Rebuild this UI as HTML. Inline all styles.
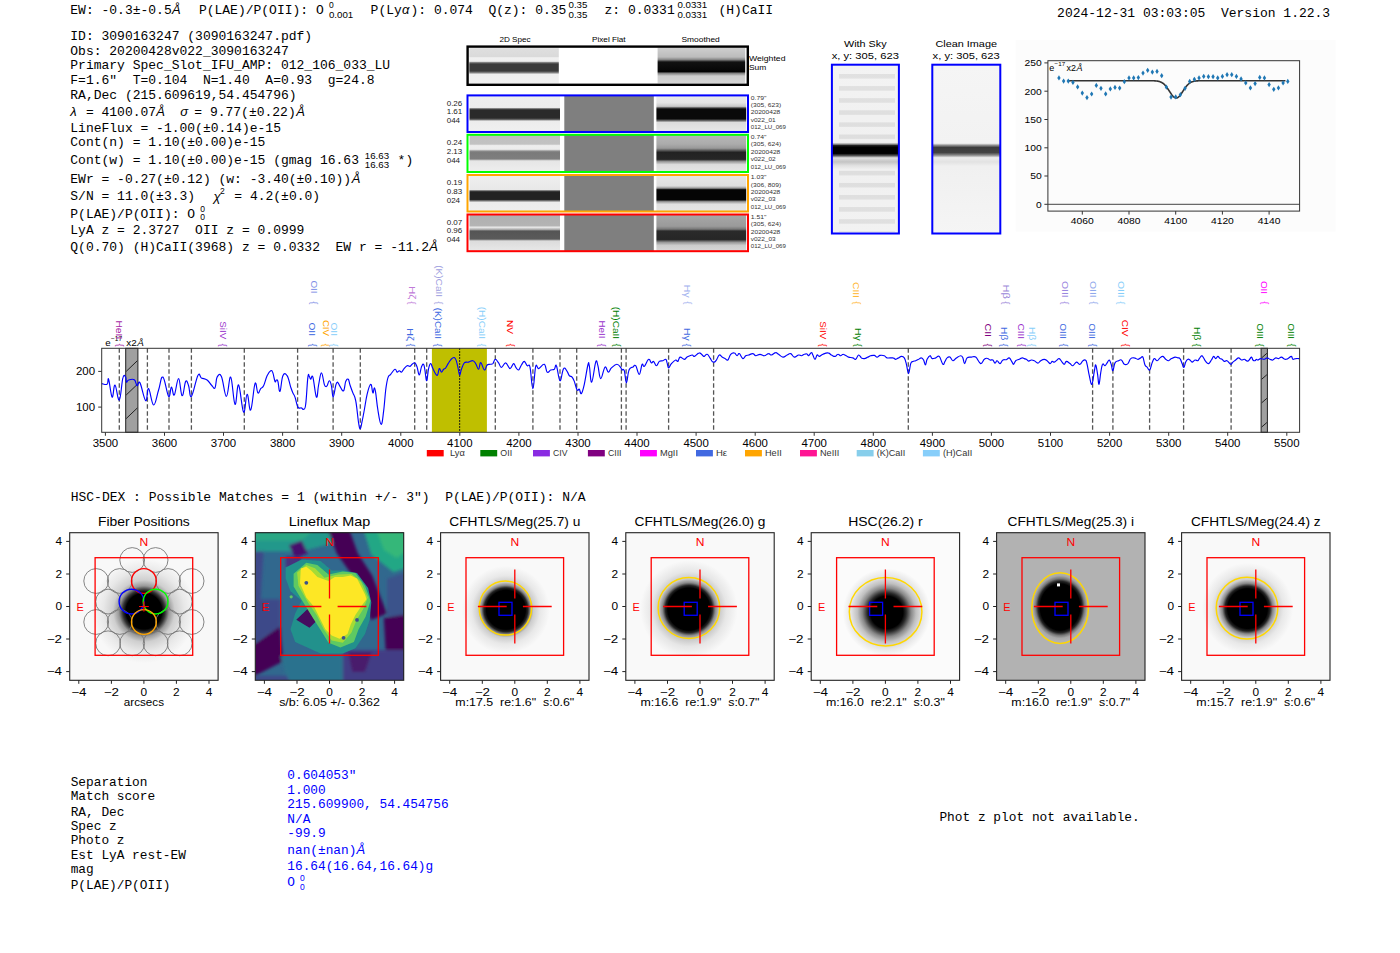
<!DOCTYPE html>
<html><head><meta charset="utf-8"><style>
html,body{margin:0;padding:0;background:#fff;width:1400px;height:953px;overflow:hidden}
svg{display:block} text{white-space:pre}
</style></head><body>
<svg width="1400" height="953" viewBox="0 0 1400 953">
<defs>
<linearGradient id="ws2d" x1="0" y1="0" x2="0" y2="1"><stop offset="0.000" stop-color="#eeeeee"/><stop offset="0.034" stop-color="#dedede"/><stop offset="0.249" stop-color="#dadada"/><stop offset="0.285" stop-color="#f0f0f0"/><stop offset="0.383" stop-color="#eeeeee"/><stop offset="0.419" stop-color="#777"/><stop offset="0.458" stop-color="#3a3a3a"/><stop offset="0.654" stop-color="#3a3a3a"/><stop offset="0.704" stop-color="#888"/><stop offset="0.743" stop-color="#eeeeee"/><stop offset="1.000" stop-color="#f0f0f0"/></linearGradient>
<linearGradient id="wssm" x1="0" y1="0" x2="0" y2="1"><stop offset="0.000" stop-color="#cfcfcf"/><stop offset="0.123" stop-color="#c6c6c6"/><stop offset="0.263" stop-color="#bcbcbc"/><stop offset="0.332" stop-color="#8a8a8a"/><stop offset="0.402" stop-color="#111"/><stop offset="0.668" stop-color="#050505"/><stop offset="0.723" stop-color="#888"/><stop offset="0.793" stop-color="#cfcfcf"/><stop offset="1.000" stop-color="#d5d5d5"/></linearGradient>
<linearGradient id="r2d0" x1="0" y1="0" x2="0" y2="1"><stop offset="0" stop-color="#eeeeee"/><stop offset="0.33" stop-color="#ececec"/><stop offset="0.37" stop-color="#555"/><stop offset="0.4" stop-color="#2a2a2a"/><stop offset="0.62" stop-color="#2a2a2a"/><stop offset="0.66" stop-color="#666"/><stop offset="0.7" stop-color="#ececec"/><stop offset="1" stop-color="#f0f0f0"/></linearGradient>
<linearGradient id="rsm0" x1="0" y1="0" x2="0" y2="1"><stop offset="0" stop-color="#ececec"/><stop offset="0.2" stop-color="#e4e4e4"/><stop offset="0.3" stop-color="#c8c8c8"/><stop offset="0.35" stop-color="#333"/><stop offset="0.38" stop-color="#0a0a0a"/><stop offset="0.64" stop-color="#0a0a0a"/><stop offset="0.68" stop-color="#555"/><stop offset="0.74" stop-color="#dcdcdc"/><stop offset="1" stop-color="#e8e8e8"/></linearGradient>
<linearGradient id="r2d1" x1="0" y1="0" x2="0" y2="1"><stop offset="0" stop-color="#d8d8d8"/><stop offset="0.04" stop-color="#c0c0c0"/><stop offset="0.25" stop-color="#c2c2c2"/><stop offset="0.29" stop-color="#eeeeee"/><stop offset="0.39" stop-color="#ececec"/><stop offset="0.44" stop-color="#8a8a8a"/><stop offset="0.48" stop-color="#7a7a7a"/><stop offset="0.65" stop-color="#7e7e7e"/><stop offset="0.7" stop-color="#e6e6e6"/><stop offset="1" stop-color="#eeeeee"/></linearGradient>
<linearGradient id="rsm1" x1="0" y1="0" x2="0" y2="1"><stop offset="0" stop-color="#b8b8b8"/><stop offset="0.25" stop-color="#ababab"/><stop offset="0.36" stop-color="#999"/><stop offset="0.44" stop-color="#444"/><stop offset="0.47" stop-color="#222"/><stop offset="0.66" stop-color="#262626"/><stop offset="0.72" stop-color="#999"/><stop offset="0.8" stop-color="#dcdcdc"/><stop offset="1" stop-color="#e4e4e4"/></linearGradient>
<linearGradient id="r2d2" x1="0" y1="0" x2="0" y2="1"><stop offset="0" stop-color="#efefef"/><stop offset="0.4" stop-color="#e8e8e8"/><stop offset="0.44" stop-color="#444"/><stop offset="0.47" stop-color="#222"/><stop offset="0.67" stop-color="#222"/><stop offset="0.71" stop-color="#888"/><stop offset="0.75" stop-color="#ececec"/><stop offset="1" stop-color="#eeeeee"/></linearGradient>
<linearGradient id="rsm2" x1="0" y1="0" x2="0" y2="1"><stop offset="0" stop-color="#e8e8e8"/><stop offset="0.3" stop-color="#dedede"/><stop offset="0.36" stop-color="#999"/><stop offset="0.4" stop-color="#111"/><stop offset="0.42" stop-color="#050505"/><stop offset="0.68" stop-color="#050505"/><stop offset="0.73" stop-color="#999"/><stop offset="0.8" stop-color="#e0e0e0"/><stop offset="1" stop-color="#e4e4e4"/></linearGradient>
<linearGradient id="r2d3" x1="0" y1="0" x2="0" y2="1"><stop offset="0" stop-color="#cfcfcf"/><stop offset="0.03" stop-color="#b0b0b0"/><stop offset="0.3" stop-color="#b4b4b4"/><stop offset="0.35" stop-color="#e8e8e8"/><stop offset="0.41" stop-color="#aaa"/><stop offset="0.45" stop-color="#555"/><stop offset="0.67" stop-color="#5a5a5a"/><stop offset="0.72" stop-color="#dcdcdc"/><stop offset="1" stop-color="#e8e8e8"/></linearGradient>
<linearGradient id="rsm3" x1="0" y1="0" x2="0" y2="1"><stop offset="0" stop-color="#a8a8a8"/><stop offset="0.32" stop-color="#9a9a9a"/><stop offset="0.4" stop-color="#777"/><stop offset="0.45" stop-color="#2a2a2a"/><stop offset="0.68" stop-color="#262626"/><stop offset="0.76" stop-color="#999"/><stop offset="0.84" stop-color="#cccccc"/><stop offset="1" stop-color="#d8d8d8"/></linearGradient>
<linearGradient id="skyA" x1="0" y1="0" x2="0" y2="1"><stop offset="0" stop-color="#f3f3f3"/><stop offset="0.46" stop-color="#f0f0f0"/><stop offset="0.47" stop-color="#999"/><stop offset="0.478" stop-color="#222"/><stop offset="0.488" stop-color="#000"/><stop offset="0.525" stop-color="#000"/><stop offset="0.538" stop-color="#555"/><stop offset="0.552" stop-color="#e8e8e8"/><stop offset="0.556" stop-color="#d8d8d8"/><stop offset="0.575" stop-color="#c4c4c4"/><stop offset="0.598" stop-color="#e2e2e2"/><stop offset="0.62" stop-color="#f0f0f0"/><stop offset="1" stop-color="#f2f2f2"/></linearGradient>
<linearGradient id="skyB" x1="0" y1="0" x2="0" y2="1"><stop offset="0" stop-color="#f5f5f5"/><stop offset="0.465" stop-color="#f2f2f2"/><stop offset="0.478" stop-color="#888"/><stop offset="0.49" stop-color="#3c3c3c"/><stop offset="0.52" stop-color="#444"/><stop offset="0.535" stop-color="#888"/><stop offset="0.55" stop-color="#eeeeee"/><stop offset="0.575" stop-color="#e2e2e2"/><stop offset="0.6" stop-color="#f0f0f0"/><stop offset="1" stop-color="#f5f5f5"/></linearGradient>
<pattern id="stripes" x="0" y="74" width="10" height="12.1" patternUnits="userSpaceOnUse"><rect x="0" y="-0.5" width="10" height="5" fill="#000" fill-opacity="0.075"/></pattern>

<radialGradient id="b0" gradientUnits="userSpaceOnUse" cx="143.9" cy="611.1" r="52.1" gradientTransform="translate(143.9,611.1) scale(1.0,1) translate(-143.9,-611.1)"><stop offset="0" stop-color="#000"/><stop offset="0.344" stop-color="#000"/><stop offset="0.406" stop-color="#333"/><stop offset="0.484" stop-color="#999"/><stop offset="0.594" stop-color="#cfcfcf"/><stop offset="0.781" stop-color="#e8e8e8"/><stop offset="1.000" stop-color="#f8f8f8"/></radialGradient>
<clipPath id="lfclip"><rect x="255.6" y="532.6" width="148.2" height="147.4"/></clipPath>
<filter id="lfblur" x="-10%" y="-10%" width="120%" height="120%"><feGaussianBlur stdDeviation="1.6"/></filter>
<filter id="lfblur2" x="-10%" y="-10%" width="120%" height="120%"><feGaussianBlur stdDeviation="0.7"/></filter>
<radialGradient id="b2" gradientUnits="userSpaceOnUse" cx="505.9" cy="609.8" r="43.9" gradientTransform="translate(505.9,609.8) scale(1.0,1) translate(-505.9,-609.8)"><stop offset="0" stop-color="#000"/><stop offset="0.444" stop-color="#000"/><stop offset="0.500" stop-color="#222"/><stop offset="0.556" stop-color="#888"/><stop offset="0.630" stop-color="#ccc"/><stop offset="0.778" stop-color="#e8e8e8"/><stop offset="1.000" stop-color="#f9f9f9"/></radialGradient>
<radialGradient id="b3" gradientUnits="userSpaceOnUse" cx="688.9" cy="609.1" r="48.8" gradientTransform="translate(688.9,609.1) scale(1.0,1) translate(-688.9,-609.1)"><stop offset="0" stop-color="#000"/><stop offset="0.433" stop-color="#000"/><stop offset="0.483" stop-color="#222"/><stop offset="0.540" stop-color="#888"/><stop offset="0.617" stop-color="#c8c8c8"/><stop offset="0.767" stop-color="#e6e6e6"/><stop offset="1.000" stop-color="#f9f9f9"/></radialGradient>
<radialGradient id="b4" gradientUnits="userSpaceOnUse" cx="886.7" cy="612.4" r="43.9" gradientTransform="translate(886.7,612.4) scale(1.0,1) translate(-886.7,-612.4)"><stop offset="0" stop-color="#000"/><stop offset="0.370" stop-color="#000"/><stop offset="0.444" stop-color="#2a2a2a"/><stop offset="0.556" stop-color="#888"/><stop offset="0.667" stop-color="#c0c0c0"/><stop offset="0.815" stop-color="#e5e5e5"/><stop offset="1.000" stop-color="#fbfbfb"/></radialGradient>
<radialGradient id="b5" gradientUnits="userSpaceOnUse" cx="1060.1" cy="607.0" r="34.2" gradientTransform="translate(1060.1,607.0) scale(0.86,1) translate(-1060.1,-607.0)"><stop offset="0" stop-color="#000"/><stop offset="0.676" stop-color="#000"/><stop offset="0.752" stop-color="#222"/><stop offset="0.829" stop-color="#777"/><stop offset="0.914" stop-color="#a8a8a8"/><stop offset="1.000" stop-color="#b2b2b2"/></radialGradient>
<radialGradient id="b6" gradientUnits="userSpaceOnUse" cx="1247.5" cy="608.6" r="45.6" gradientTransform="translate(1247.5,608.6) scale(1.0,1) translate(-1247.5,-608.6)"><stop offset="0" stop-color="#000"/><stop offset="0.436" stop-color="#000"/><stop offset="0.493" stop-color="#222"/><stop offset="0.554" stop-color="#888"/><stop offset="0.636" stop-color="#ccc"/><stop offset="0.786" stop-color="#e8e8e8"/><stop offset="1.000" stop-color="#f9f9f9"/></radialGradient>
</defs>
<rect width="1400" height="953" fill="#fff"/>
<text x="70.3" y="14.0" font-family="Liberation Mono" font-size="13" fill="#000" >EW: -0.3±-0.5</text>
<text x="172" y="14.0" font-family="Liberation Sans" font-style="italic" font-size="13">Å</text>
<text x="198.9" y="14.0" font-family="Liberation Mono" font-size="13" fill="#000" >P(LAE)/P(OII): O</text>
<text x="328.9" y="8.4" font-family="Liberation Sans" font-size="8.5" fill="#000" text-anchor="start"  >0</text>
<text x="328.9" y="17.5" font-family="Liberation Sans" font-size="8.5" fill="#000" text-anchor="start" textLength="24.3" lengthAdjust="spacingAndGlyphs" >0.001</text>
<text x="370.6" y="14.0" font-family="Liberation Mono" font-size="13" fill="#000" >P(Ly</text>
<text x="402" y="14.0" font-family="Liberation Sans" font-style="italic" font-size="13">α</text>
<text x="410.5" y="14.0" font-family="Liberation Mono" font-size="13" fill="#000" >): 0.074</text>
<text x="488.4" y="14.0" font-family="Liberation Mono" font-size="13" fill="#000" >Q(z): 0.35</text>
<text x="568.5" y="8.4" font-family="Liberation Sans" font-size="8.5" fill="#000" text-anchor="start" textLength="18.9" lengthAdjust="spacingAndGlyphs" >0.35</text>
<text x="568.5" y="17.5" font-family="Liberation Sans" font-size="8.5" fill="#000" text-anchor="start" textLength="18.9" lengthAdjust="spacingAndGlyphs" >0.35</text>
<text x="604.5" y="14.0" font-family="Liberation Mono" font-size="13" fill="#000" >z: 0.0331</text>
<text x="677.4" y="8.4" font-family="Liberation Sans" font-size="8.5" fill="#000" text-anchor="start" textLength="29.7" lengthAdjust="spacingAndGlyphs" >0.0331</text>
<text x="677.4" y="17.5" font-family="Liberation Sans" font-size="8.5" fill="#000" text-anchor="start" textLength="29.7" lengthAdjust="spacingAndGlyphs" >0.0331</text>
<text x="718.5" y="14.0" font-family="Liberation Mono" font-size="13" fill="#000" >(H)CaII</text>
<text x="1057.1" y="16.7" font-family="Liberation Mono" font-size="13" fill="#000" >2024-12-31 03:03:05  Version 1.22.3</text>
<text x="70.3" y="40.4" font-family="Liberation Mono" font-size="13" fill="#000" >ID: 3090163247 (3090163247.pdf)</text>
<text x="70.3" y="55.0" font-family="Liberation Mono" font-size="13" fill="#000" >Obs: 20200428v022_3090163247</text>
<text x="70.3" y="69.3" font-family="Liberation Mono" font-size="13" fill="#000" >Primary Spec_Slot_IFU_AMP: 012_106_033_LU</text>
<text x="70.3" y="84.3" font-family="Liberation Mono" font-size="13" fill="#000" >F=1.6"  T=0.104  N=1.40  A=0.93  g=24.8</text>
<text x="70.3" y="99.3" font-family="Liberation Mono" font-size="13" fill="#000" >RA,Dec (215.609619,54.454796)</text>
<text x="70.3" y="131.5" font-family="Liberation Mono" font-size="13" fill="#000" >LineFlux = -1.00(±0.14)e-15</text>
<text x="70.3" y="146.2" font-family="Liberation Mono" font-size="13" fill="#000" >Cont(n) = 1.10(±0.00)e-15</text>
<text x="70.3" y="182.5" font-family="Liberation Mono" font-size="13" fill="#000" >EWr = -0.27(±0.12) (w: -3.40(±0.10))</text>
<text x="70.3" y="234.3" font-family="Liberation Mono" font-size="13" fill="#000" >LyA z = 2.3727  OII z = 0.0999</text>
<text x="70.3" y="251.2" font-family="Liberation Mono" font-size="13" fill="#000" >Q(0.70) (H)CaII(3968) z = 0.0332  EW r = -11.2</text>
<text x="70.3" y="116.0" font-family="Liberation Sans" font-style="italic" font-size="13">λ</text>
<text x="85.9" y="116.0" font-family="Liberation Mono" font-size="13" fill="#000" >= 4100.07</text>
<text x="156.3" y="116.0" font-family="Liberation Sans" font-style="italic" font-size="13">Å</text>
<text x="180.3" y="116.0" font-family="Liberation Sans" font-style="italic" font-size="13">σ</text>
<text x="194.3" y="116.0" font-family="Liberation Mono" font-size="13" fill="#000" >= 9.77(±0.22)</text>
<text x="296.3" y="116.0" font-family="Liberation Sans" font-style="italic" font-size="13">Å</text>
<text x="70.3" y="164.1" font-family="Liberation Mono" font-size="13" fill="#000" >Cont(w) = 1.10(±0.00)e-15 (gmag 16.63</text>
<text x="364.8" y="158.5" font-family="Liberation Sans" font-size="8.5" fill="#000" text-anchor="start" textLength="24.3" lengthAdjust="spacingAndGlyphs" >16.63</text>
<text x="364.8" y="167.5" font-family="Liberation Sans" font-size="8.5" fill="#000" text-anchor="start" textLength="24.3" lengthAdjust="spacingAndGlyphs" >16.63</text>
<text x="397.6" y="164.1" font-family="Liberation Mono" font-size="13" fill="#000" >*)</text>
<text x="351.8" y="182.5" font-family="Liberation Sans" font-style="italic" font-size="13">Å</text>
<text x="70.3" y="200.1" font-family="Liberation Mono" font-size="13" fill="#000" >S/N = 11.0(±3.3)</text>
<text x="213.60000000000002" y="201.1" font-family="Liberation Sans" font-style="italic" font-size="13">χ</text>
<text x="219.9" y="193.6" font-family="Liberation Sans" font-size="8.5" fill="#000" text-anchor="start"  >2</text>
<text x="234.3" y="200.1" font-family="Liberation Mono" font-size="13" fill="#000" >= 4.2(±0.0)</text>
<text x="70.3" y="217.7" font-family="Liberation Mono" font-size="13" fill="#000" >P(LAE)/P(OII): O</text>
<text x="200.3" y="212.2" font-family="Liberation Sans" font-size="8.5" fill="#000" text-anchor="start"  >0</text>
<text x="200.3" y="220.2" font-family="Liberation Sans" font-size="8.5" fill="#000" text-anchor="start"  >0</text>
<text x="429.3" y="251.2" font-family="Liberation Sans" font-style="italic" font-size="13">Å</text>
<text x="515.0" y="41.5" font-family="Liberation Sans" font-size="7.5" fill="#000" text-anchor="middle" textLength="31.2" lengthAdjust="spacingAndGlyphs" >2D Spec</text>
<text x="608.8" y="41.5" font-family="Liberation Sans" font-size="7.5" fill="#000" text-anchor="middle" textLength="33.7" lengthAdjust="spacingAndGlyphs" >Pixel Flat</text>
<text x="700.6" y="41.5" font-family="Liberation Sans" font-size="7.5" fill="#000" text-anchor="middle" textLength="38.3" lengthAdjust="spacingAndGlyphs" >Smoothed</text>
<rect x="469.3" y="47.6" width="89.5" height="35.8" fill="url(#ws2d)"/>
<rect x="657.6" y="47.6" width="87.6" height="35.8" fill="url(#wssm)"/>
<rect x="467.6" y="46.6" width="280.2" height="38.2" fill="none" stroke="#000" stroke-width="2.4"/>
<text x="749.0" y="60.5" font-family="Liberation Sans" font-size="7.7" fill="#000" text-anchor="start" textLength="36.5" lengthAdjust="spacingAndGlyphs" >Weighted</text>
<text x="749.0" y="69.5" font-family="Liberation Sans" font-size="7.7" fill="#000" text-anchor="start" textLength="17.3" lengthAdjust="spacingAndGlyphs" >Sum</text>
<rect x="469.5" y="95.4" width="90.5" height="36.599999999999994" fill="url(#r2d0)"/>
<rect x="564.3" y="95.4" width="89.5" height="36.599999999999994" fill="#7f7f7f"/>
<rect x="656.4" y="95.4" width="89.8" height="36.599999999999994" fill="url(#rsm0)"/>
<rect x="467.5" y="95.4" width="280.5" height="36.599999999999994" fill="none" stroke="#0000ff" stroke-width="2"/>
<text x="446.7" y="105.6" font-family="Liberation Sans" font-size="8" fill="#222" text-anchor="start"  >0.26</text>
<text x="446.7" y="114.3" font-family="Liberation Sans" font-size="8" fill="#222" text-anchor="start"  >1.61</text>
<text x="446.7" y="123.0" font-family="Liberation Sans" font-size="8" fill="#222" text-anchor="start"  >044</text>
<text x="750.8" y="99.6" font-family="Liberation Sans" font-size="5.8" fill="#333" text-anchor="start" textLength="15.6" lengthAdjust="spacingAndGlyphs" >0.79"</text>
<text x="750.8" y="107.0" font-family="Liberation Sans" font-size="5.8" fill="#333" text-anchor="start" textLength="30.4" lengthAdjust="spacingAndGlyphs" >(305, 623)</text>
<text x="750.8" y="114.4" font-family="Liberation Sans" font-size="5.8" fill="#333" text-anchor="start" textLength="29.5" lengthAdjust="spacingAndGlyphs" >20200428</text>
<text x="750.8" y="121.8" font-family="Liberation Sans" font-size="5.8" fill="#333" text-anchor="start" textLength="24.8" lengthAdjust="spacingAndGlyphs" >v022_01</text>
<text x="750.8" y="129.2" font-family="Liberation Sans" font-size="5.8" fill="#333" text-anchor="start" textLength="35.1" lengthAdjust="spacingAndGlyphs" >012_LU_069</text>
<rect x="469.5" y="134.8" width="90.5" height="37.19999999999999" fill="url(#r2d1)"/>
<rect x="564.3" y="134.8" width="89.5" height="37.19999999999999" fill="#7f7f7f"/>
<rect x="656.4" y="134.8" width="89.8" height="37.19999999999999" fill="url(#rsm1)"/>
<rect x="467.5" y="134.8" width="280.5" height="37.19999999999999" fill="none" stroke="#00ff00" stroke-width="2"/>
<text x="446.7" y="145.3" font-family="Liberation Sans" font-size="8" fill="#222" text-anchor="start"  >0.24</text>
<text x="446.7" y="154.0" font-family="Liberation Sans" font-size="8" fill="#222" text-anchor="start"  >2.13</text>
<text x="446.7" y="162.7" font-family="Liberation Sans" font-size="8" fill="#222" text-anchor="start"  >044</text>
<text x="750.8" y="139.0" font-family="Liberation Sans" font-size="5.8" fill="#333" text-anchor="start" textLength="15.6" lengthAdjust="spacingAndGlyphs" >0.74"</text>
<text x="750.8" y="146.4" font-family="Liberation Sans" font-size="5.8" fill="#333" text-anchor="start" textLength="30.4" lengthAdjust="spacingAndGlyphs" >(305, 624)</text>
<text x="750.8" y="153.8" font-family="Liberation Sans" font-size="5.8" fill="#333" text-anchor="start" textLength="29.5" lengthAdjust="spacingAndGlyphs" >20200428</text>
<text x="750.8" y="161.2" font-family="Liberation Sans" font-size="5.8" fill="#333" text-anchor="start" textLength="24.8" lengthAdjust="spacingAndGlyphs" >v022_02</text>
<text x="750.8" y="168.6" font-family="Liberation Sans" font-size="5.8" fill="#333" text-anchor="start" textLength="35.1" lengthAdjust="spacingAndGlyphs" >012_LU_069</text>
<rect x="469.5" y="175.0" width="90.5" height="36.5" fill="url(#r2d2)"/>
<rect x="564.3" y="175.0" width="89.5" height="36.5" fill="#7f7f7f"/>
<rect x="656.4" y="175.0" width="89.8" height="36.5" fill="url(#rsm2)"/>
<rect x="467.5" y="175.0" width="280.5" height="36.5" fill="none" stroke="#ffa500" stroke-width="2"/>
<text x="446.7" y="185.2" font-family="Liberation Sans" font-size="8" fill="#222" text-anchor="start"  >0.19</text>
<text x="446.7" y="193.8" font-family="Liberation Sans" font-size="8" fill="#222" text-anchor="start"  >0.83</text>
<text x="446.7" y="202.6" font-family="Liberation Sans" font-size="8" fill="#222" text-anchor="start"  >024</text>
<text x="750.8" y="179.2" font-family="Liberation Sans" font-size="5.8" fill="#333" text-anchor="start" textLength="15.6" lengthAdjust="spacingAndGlyphs" >1.03"</text>
<text x="750.8" y="186.6" font-family="Liberation Sans" font-size="5.8" fill="#333" text-anchor="start" textLength="30.4" lengthAdjust="spacingAndGlyphs" >(306, 809)</text>
<text x="750.8" y="194.0" font-family="Liberation Sans" font-size="5.8" fill="#333" text-anchor="start" textLength="29.5" lengthAdjust="spacingAndGlyphs" >20200428</text>
<text x="750.8" y="201.4" font-family="Liberation Sans" font-size="5.8" fill="#333" text-anchor="start" textLength="24.8" lengthAdjust="spacingAndGlyphs" >v022_03</text>
<text x="750.8" y="208.8" font-family="Liberation Sans" font-size="5.8" fill="#333" text-anchor="start" textLength="35.1" lengthAdjust="spacingAndGlyphs" >012_LU_069</text>
<rect x="469.5" y="214.5" width="90.5" height="36.69999999999999" fill="url(#r2d3)"/>
<rect x="564.3" y="214.5" width="89.5" height="36.69999999999999" fill="#7f7f7f"/>
<rect x="656.4" y="214.5" width="89.8" height="36.69999999999999" fill="url(#rsm3)"/>
<rect x="467.5" y="214.5" width="280.5" height="36.69999999999999" fill="none" stroke="#ff0000" stroke-width="2"/>
<text x="446.7" y="224.8" font-family="Liberation Sans" font-size="8" fill="#222" text-anchor="start"  >0.07</text>
<text x="446.7" y="233.4" font-family="Liberation Sans" font-size="8" fill="#222" text-anchor="start"  >0.96</text>
<text x="446.7" y="242.2" font-family="Liberation Sans" font-size="8" fill="#222" text-anchor="start"  >044</text>
<text x="750.8" y="218.7" font-family="Liberation Sans" font-size="5.8" fill="#333" text-anchor="start" textLength="15.6" lengthAdjust="spacingAndGlyphs" >1.51"</text>
<text x="750.8" y="226.1" font-family="Liberation Sans" font-size="5.8" fill="#333" text-anchor="start" textLength="30.4" lengthAdjust="spacingAndGlyphs" >(305, 624)</text>
<text x="750.8" y="233.5" font-family="Liberation Sans" font-size="5.8" fill="#333" text-anchor="start" textLength="29.5" lengthAdjust="spacingAndGlyphs" >20200428</text>
<text x="750.8" y="240.9" font-family="Liberation Sans" font-size="5.8" fill="#333" text-anchor="start" textLength="24.8" lengthAdjust="spacingAndGlyphs" >v022_03</text>
<text x="750.8" y="248.3" font-family="Liberation Sans" font-size="5.8" fill="#333" text-anchor="start" textLength="35.1" lengthAdjust="spacingAndGlyphs" >012_LU_069</text>
<text x="865.3" y="47.4" font-family="Liberation Sans" font-size="9.8" fill="#000" text-anchor="middle" textLength="42.7" lengthAdjust="spacingAndGlyphs" >With Sky</text>
<text x="865.3" y="58.5" font-family="Liberation Sans" font-size="9.8" fill="#000" text-anchor="middle" textLength="67.2" lengthAdjust="spacingAndGlyphs" >x, y: 305, 623</text>
<text x="966.2" y="47.4" font-family="Liberation Sans" font-size="9.8" fill="#000" text-anchor="middle" textLength="61.6" lengthAdjust="spacingAndGlyphs" >Clean Image</text>
<text x="966.2" y="58.5" font-family="Liberation Sans" font-size="9.8" fill="#000" text-anchor="middle" textLength="67.2" lengthAdjust="spacingAndGlyphs" >x, y: 305, 623</text>
<rect x="832" y="64.7" width="67" height="169" fill="url(#skyA)"/>
<rect x="839" y="73" width="56" height="68" fill="url(#stripes)"/>
<rect x="839" y="169" width="56" height="63" fill="url(#stripes)"/>
<rect x="932.3" y="64.7" width="68" height="169" fill="url(#skyB)"/>
<rect x="831.9" y="64.7" width="67" height="168.8" fill="none" stroke="#0000ff" stroke-width="2"/>
<rect x="932.3" y="64.7" width="68" height="168.8" fill="none" stroke="#0000ff" stroke-width="2"/>
<rect x="1015.7" y="40" width="320" height="191.5" fill="#fcfcfc"/>
<line x1="1047.9" y1="204.3" x2="1299.6" y2="204.3" stroke="#444" stroke-width="1"/>
<polyline points="1068.29,80.74 1068.87,80.74 1069.46,80.74 1070.04,80.74 1070.62,80.74 1071.21,80.74 1071.79,80.74 1072.38,80.74 1072.96,80.74 1073.54,80.74 1074.13,80.74 1074.71,80.74 1075.30,80.74 1075.88,80.74 1076.46,80.74 1077.05,80.74 1077.63,80.74 1078.21,80.74 1078.80,80.74 1079.38,80.74 1079.97,80.74 1080.55,80.74 1081.13,80.74 1081.72,80.74 1082.30,80.74 1082.88,80.74 1083.47,80.74 1084.05,80.74 1084.63,80.74 1085.22,80.74 1085.80,80.74 1086.39,80.74 1086.97,80.74 1087.55,80.74 1088.14,80.74 1088.72,80.74 1089.31,80.74 1089.89,80.74 1090.47,80.74 1091.06,80.74 1091.64,80.74 1092.22,80.74 1092.81,80.74 1093.39,80.74 1093.98,80.74 1094.56,80.74 1095.14,80.74 1095.73,80.74 1096.31,80.74 1096.89,80.74 1097.48,80.74 1098.06,80.74 1098.64,80.74 1099.23,80.74 1099.81,80.74 1100.40,80.74 1100.98,80.74 1101.56,80.74 1102.15,80.74 1102.73,80.74 1103.32,80.74 1103.90,80.74 1104.48,80.74 1105.07,80.74 1105.65,80.74 1106.23,80.74 1106.82,80.74 1107.40,80.74 1107.99,80.74 1108.57,80.74 1109.15,80.74 1109.74,80.74 1110.32,80.74 1110.90,80.74 1111.49,80.74 1112.07,80.74 1112.65,80.74 1113.24,80.74 1113.82,80.74 1114.41,80.74 1114.99,80.74 1115.57,80.74 1116.16,80.74 1116.74,80.74 1117.33,80.74 1117.91,80.74 1118.49,80.74 1119.08,80.74 1119.66,80.74 1120.24,80.74 1120.83,80.74 1121.41,80.74 1122.00,80.74 1122.58,80.74 1123.16,80.74 1123.75,80.74 1124.33,80.74 1124.91,80.74 1125.50,80.74 1126.08,80.74 1126.66,80.74 1127.25,80.74 1127.83,80.74 1128.42,80.74 1129.00,80.74 1129.58,80.74 1130.17,80.74 1130.75,80.74 1131.34,80.74 1131.92,80.74 1132.50,80.74 1133.09,80.74 1133.67,80.74 1134.25,80.74 1134.84,80.74 1135.42,80.74 1136.01,80.74 1136.59,80.74 1137.17,80.74 1137.76,80.74 1138.34,80.74 1138.92,80.74 1139.51,80.74 1140.09,80.74 1140.67,80.74 1141.26,80.74 1141.84,80.74 1142.43,80.74 1143.01,80.74 1143.59,80.74 1144.18,80.74 1144.76,80.74 1145.35,80.74 1145.93,80.74 1146.51,80.74 1147.10,80.74 1147.68,80.74 1148.26,80.74 1148.85,80.74 1149.43,80.75 1150.02,80.75 1150.60,80.75 1151.18,80.76 1151.77,80.76 1152.35,80.77 1152.93,80.79 1153.52,80.80 1154.10,80.82 1154.68,80.85 1155.27,80.89 1155.85,80.93 1156.44,80.99 1157.02,81.05 1157.60,81.14 1158.19,81.25 1158.77,81.37 1159.36,81.53 1159.94,81.71 1160.52,81.93 1161.11,82.19 1161.69,82.49 1162.27,82.84 1162.86,83.24 1163.44,83.69 1164.03,84.19 1164.61,84.76 1165.19,85.38 1165.78,86.05 1166.36,86.78 1166.94,87.56 1167.53,88.38 1168.11,89.24 1168.69,90.12 1169.28,91.02 1169.86,91.92 1170.45,92.81 1171.03,93.67 1171.61,94.50 1172.20,95.26 1172.78,95.96 1173.37,96.57 1173.95,97.08 1174.53,97.49 1175.12,97.78 1175.70,97.95 1176.28,97.98 1176.87,97.89 1177.45,97.68 1178.04,97.34 1178.62,96.89 1179.20,96.34 1179.79,95.69 1180.37,94.96 1180.95,94.17 1181.54,93.33 1182.12,92.46 1182.71,91.56 1183.29,90.66 1183.87,89.77 1184.46,88.89 1185.04,88.05 1185.62,87.24 1186.21,86.48 1186.79,85.78 1187.38,85.12 1187.96,84.52 1188.54,83.98 1189.13,83.50 1189.71,83.07 1190.29,82.70 1190.88,82.37 1191.46,82.08 1192.05,81.84 1192.63,81.64 1193.21,81.46 1193.80,81.32 1194.38,81.20 1194.96,81.10 1195.55,81.03 1196.13,80.96 1196.72,80.91 1197.30,80.87 1197.88,80.84 1198.47,80.81 1199.05,80.80 1199.63,80.78 1200.22,80.77 1200.80,80.76 1201.38,80.76 1201.97,80.75 1202.55,80.75 1203.14,80.74 1203.72,80.74 1204.30,80.74 1204.89,80.74 1205.47,80.74 1206.06,80.74 1206.64,80.74 1207.22,80.74 1207.81,80.74 1208.39,80.74 1208.97,80.74 1209.56,80.74 1210.14,80.74 1210.73,80.74 1211.31,80.74 1211.89,80.74 1212.48,80.74 1213.06,80.74 1213.64,80.74 1214.23,80.74 1214.81,80.74 1215.39,80.74 1215.98,80.74 1216.56,80.74 1217.15,80.74 1217.73,80.74 1218.31,80.74 1218.90,80.74 1219.48,80.74 1220.07,80.74 1220.65,80.74 1221.23,80.74 1221.82,80.74 1222.40,80.74 1222.98,80.74 1223.57,80.74 1224.15,80.74 1224.74,80.74 1225.32,80.74 1225.90,80.74 1226.49,80.74 1227.07,80.74 1227.65,80.74 1228.24,80.74 1228.82,80.74 1229.40,80.74 1229.99,80.74 1230.57,80.74 1231.16,80.74 1231.74,80.74 1232.32,80.74 1232.91,80.74 1233.49,80.74 1234.08,80.74 1234.66,80.74 1235.24,80.74 1235.83,80.74 1236.41,80.74 1236.99,80.74 1237.58,80.74 1238.16,80.74 1238.75,80.74 1239.33,80.74 1239.91,80.74 1240.50,80.74 1241.08,80.74 1241.66,80.74 1242.25,80.74 1242.83,80.74 1243.41,80.74 1244.00,80.74 1244.58,80.74 1245.17,80.74 1245.75,80.74 1246.33,80.74 1246.92,80.74 1247.50,80.74 1248.09,80.74 1248.67,80.74 1249.25,80.74 1249.84,80.74 1250.42,80.74 1251.00,80.74 1251.59,80.74 1252.17,80.74 1252.76,80.74 1253.34,80.74 1253.92,80.74 1254.51,80.74 1255.09,80.74 1255.67,80.74 1256.26,80.74 1256.84,80.74 1257.42,80.74 1258.01,80.74 1258.59,80.74 1259.18,80.74 1259.76,80.74 1260.34,80.74 1260.93,80.74 1261.51,80.74 1262.10,80.74 1262.68,80.74 1263.26,80.74 1263.85,80.74 1264.43,80.74 1265.01,80.74 1265.60,80.74 1266.18,80.74 1266.77,80.74 1267.35,80.74 1267.93,80.74 1268.52,80.74 1269.10,80.74 1269.68,80.74 1270.27,80.74 1270.85,80.74 1271.43,80.74 1272.02,80.74 1272.60,80.74 1273.19,80.74 1273.77,80.74 1274.35,80.74 1274.94,80.74 1275.52,80.74 1276.11,80.74 1276.69,80.74 1277.27,80.74 1277.86,80.74 1278.44,80.74 1279.02,80.74 1279.61,80.74 1280.19,80.74 1280.78,80.74 1281.36,80.74 1281.94,80.74 1282.53,80.74 1283.11,80.74 1283.69,80.74 1284.28,80.74 1284.86,80.74 1285.45,80.74" fill="none" stroke="#333" stroke-width="1.6"/>
<path d="M1058.95,75.30 L1060.65,77.90 L1058.95,80.50 L1057.25,77.90Z" fill="#1f77b4"/>
<path d="M1063.62,78.50 L1065.32,81.10 L1063.62,83.70 L1061.92,81.10Z" fill="#1f77b4"/>
<path d="M1068.29,78.50 L1069.99,81.10 L1068.29,83.70 L1066.59,81.10Z" fill="#1f77b4"/>
<path d="M1072.96,79.80 L1074.66,82.40 L1072.96,85.00 L1071.26,82.40Z" fill="#1f77b4"/>
<path d="M1077.63,84.30 L1079.33,86.90 L1077.63,89.50 L1075.93,86.90Z" fill="#1f77b4"/>
<path d="M1082.30,90.50 L1084.00,93.10 L1082.30,95.70 L1080.60,93.10Z" fill="#1f77b4"/>
<path d="M1086.97,95.00 L1088.67,97.60 L1086.97,100.20 L1085.27,97.60Z" fill="#1f77b4"/>
<path d="M1091.64,91.40 L1093.34,94.00 L1091.64,96.60 L1089.94,94.00Z" fill="#1f77b4"/>
<path d="M1096.31,82.80 L1098.01,85.40 L1096.31,88.00 L1094.61,85.40Z" fill="#1f77b4"/>
<path d="M1100.98,85.70 L1102.68,88.30 L1100.98,90.90 L1099.28,88.30Z" fill="#1f77b4"/>
<path d="M1105.65,91.30 L1107.35,93.90 L1105.65,96.50 L1103.95,93.90Z" fill="#1f77b4"/>
<path d="M1110.32,86.30 L1112.02,88.90 L1110.32,91.50 L1108.62,88.90Z" fill="#1f77b4"/>
<path d="M1114.99,84.80 L1116.69,87.40 L1114.99,90.00 L1113.29,87.40Z" fill="#1f77b4"/>
<path d="M1119.66,85.50 L1121.36,88.10 L1119.66,90.70 L1117.96,88.10Z" fill="#1f77b4"/>
<path d="M1124.33,79.10 L1126.03,81.70 L1124.33,84.30 L1122.63,81.70Z" fill="#1f77b4"/>
<path d="M1129.00,75.30 L1130.70,77.90 L1129.00,80.50 L1127.30,77.90Z" fill="#1f77b4"/>
<path d="M1133.67,75.30 L1135.37,77.90 L1133.67,80.50 L1131.97,77.90Z" fill="#1f77b4"/>
<path d="M1138.34,75.00 L1140.04,77.60 L1138.34,80.20 L1136.64,77.60Z" fill="#1f77b4"/>
<path d="M1143.01,70.50 L1144.71,73.10 L1143.01,75.70 L1141.31,73.10Z" fill="#1f77b4"/>
<path d="M1147.68,67.70 L1149.38,70.30 L1147.68,72.90 L1145.98,70.30Z" fill="#1f77b4"/>
<path d="M1152.35,69.50 L1154.05,72.10 L1152.35,74.70 L1150.65,72.10Z" fill="#1f77b4"/>
<path d="M1157.02,68.80 L1158.72,71.40 L1157.02,74.00 L1155.32,71.40Z" fill="#1f77b4"/>
<path d="M1161.69,73.10 L1163.39,75.70 L1161.69,78.30 L1159.99,75.70Z" fill="#1f77b4"/>
<path d="M1166.36,84.50 L1168.06,87.10 L1166.36,89.70 L1164.66,87.10Z" fill="#1f77b4"/>
<path d="M1171.03,94.50 L1172.73,97.10 L1171.03,99.70 L1169.33,97.10Z" fill="#1f77b4"/>
<path d="M1175.70,94.30 L1177.40,96.90 L1175.70,99.50 L1174.00,96.90Z" fill="#1f77b4"/>
<path d="M1180.37,92.10 L1182.07,94.70 L1180.37,97.30 L1178.67,94.70Z" fill="#1f77b4"/>
<path d="M1185.04,85.70 L1186.74,88.30 L1185.04,90.90 L1183.34,88.30Z" fill="#1f77b4"/>
<path d="M1189.71,78.80 L1191.41,81.40 L1189.71,84.00 L1188.01,81.40Z" fill="#1f77b4"/>
<path d="M1194.38,76.70 L1196.08,79.30 L1194.38,81.90 L1192.68,79.30Z" fill="#1f77b4"/>
<path d="M1199.05,75.30 L1200.75,77.90 L1199.05,80.50 L1197.35,77.90Z" fill="#1f77b4"/>
<path d="M1203.72,73.80 L1205.42,76.40 L1203.72,79.00 L1202.02,76.40Z" fill="#1f77b4"/>
<path d="M1208.39,74.10 L1210.09,76.70 L1208.39,79.30 L1206.69,76.70Z" fill="#1f77b4"/>
<path d="M1213.06,74.10 L1214.76,76.70 L1213.06,79.30 L1211.36,76.70Z" fill="#1f77b4"/>
<path d="M1217.73,75.30 L1219.43,77.90 L1217.73,80.50 L1216.03,77.90Z" fill="#1f77b4"/>
<path d="M1222.40,73.80 L1224.10,76.40 L1222.40,79.00 L1220.70,76.40Z" fill="#1f77b4"/>
<path d="M1227.07,72.10 L1228.77,74.70 L1227.07,77.30 L1225.37,74.70Z" fill="#1f77b4"/>
<path d="M1231.74,72.10 L1233.44,74.70 L1231.74,77.30 L1230.04,74.70Z" fill="#1f77b4"/>
<path d="M1236.41,73.80 L1238.11,76.40 L1236.41,79.00 L1234.71,76.40Z" fill="#1f77b4"/>
<path d="M1241.08,76.30 L1242.78,78.90 L1241.08,81.50 L1239.38,78.90Z" fill="#1f77b4"/>
<path d="M1245.75,80.30 L1247.45,82.90 L1245.75,85.50 L1244.05,82.90Z" fill="#1f77b4"/>
<path d="M1250.42,85.30 L1252.12,87.90 L1250.42,90.50 L1248.72,87.90Z" fill="#1f77b4"/>
<path d="M1255.09,81.00 L1256.79,83.60 L1255.09,86.20 L1253.39,83.60Z" fill="#1f77b4"/>
<path d="M1259.76,74.80 L1261.46,77.40 L1259.76,80.00 L1258.06,77.40Z" fill="#1f77b4"/>
<path d="M1264.43,75.30 L1266.13,77.90 L1264.43,80.50 L1262.73,77.90Z" fill="#1f77b4"/>
<path d="M1269.10,82.00 L1270.80,84.60 L1269.10,87.20 L1267.40,84.60Z" fill="#1f77b4"/>
<path d="M1273.77,86.70 L1275.47,89.30 L1273.77,91.90 L1272.07,89.30Z" fill="#1f77b4"/>
<path d="M1278.44,85.30 L1280.14,87.90 L1278.44,90.50 L1276.74,87.90Z" fill="#1f77b4"/>
<path d="M1283.11,80.30 L1284.81,82.90 L1283.11,85.50 L1281.41,82.90Z" fill="#1f77b4"/>
<path d="M1287.78,78.80 L1289.48,81.40 L1287.78,84.00 L1286.08,81.40Z" fill="#1f77b4"/>
<rect x="1047.9" y="60.7" width="251.7" height="150.4" fill="none" stroke="#333" stroke-width="1"/>
<line x1="1044.4" y1="204.3" x2="1047.9" y2="204.3" stroke="#333" stroke-width="1"/>
<text x="1041.7" y="207.6" font-family="Liberation Sans" font-size="9.0" fill="#000" text-anchor="end" textLength="5.7" lengthAdjust="spacingAndGlyphs" >0</text>
<line x1="1044.4" y1="176.0" x2="1047.9" y2="176.0" stroke="#333" stroke-width="1"/>
<text x="1041.7" y="179.3" font-family="Liberation Sans" font-size="9.0" fill="#000" text-anchor="end" textLength="11.5" lengthAdjust="spacingAndGlyphs" >50</text>
<line x1="1044.4" y1="147.8" x2="1047.9" y2="147.8" stroke="#333" stroke-width="1"/>
<text x="1041.7" y="151.1" font-family="Liberation Sans" font-size="9.0" fill="#000" text-anchor="end" textLength="17.2" lengthAdjust="spacingAndGlyphs" >100</text>
<line x1="1044.4" y1="119.5" x2="1047.9" y2="119.5" stroke="#333" stroke-width="1"/>
<text x="1041.7" y="122.8" font-family="Liberation Sans" font-size="9.0" fill="#000" text-anchor="end" textLength="17.2" lengthAdjust="spacingAndGlyphs" >150</text>
<line x1="1044.4" y1="91.2" x2="1047.9" y2="91.2" stroke="#333" stroke-width="1"/>
<text x="1041.7" y="94.5" font-family="Liberation Sans" font-size="9.0" fill="#000" text-anchor="end" textLength="17.2" lengthAdjust="spacingAndGlyphs" >200</text>
<line x1="1044.4" y1="62.9" x2="1047.9" y2="62.9" stroke="#333" stroke-width="1"/>
<text x="1041.7" y="66.2" font-family="Liberation Sans" font-size="9.0" fill="#000" text-anchor="end" textLength="17.2" lengthAdjust="spacingAndGlyphs" >250</text>
<line x1="1082.3" y1="211.1" x2="1082.3" y2="214.6" stroke="#333" stroke-width="1"/>
<text x="1082.3" y="224.3" font-family="Liberation Sans" font-size="9.0" fill="#000" text-anchor="middle" textLength="22.9" lengthAdjust="spacingAndGlyphs" >4060</text>
<line x1="1129.0" y1="211.1" x2="1129.0" y2="214.6" stroke="#333" stroke-width="1"/>
<text x="1129.0" y="224.3" font-family="Liberation Sans" font-size="9.0" fill="#000" text-anchor="middle" textLength="22.9" lengthAdjust="spacingAndGlyphs" >4080</text>
<line x1="1175.7" y1="211.1" x2="1175.7" y2="214.6" stroke="#333" stroke-width="1"/>
<text x="1175.7" y="224.3" font-family="Liberation Sans" font-size="9.0" fill="#000" text-anchor="middle" textLength="22.9" lengthAdjust="spacingAndGlyphs" >4100</text>
<line x1="1222.4" y1="211.1" x2="1222.4" y2="214.6" stroke="#333" stroke-width="1"/>
<text x="1222.4" y="224.3" font-family="Liberation Sans" font-size="9.0" fill="#000" text-anchor="middle" textLength="22.9" lengthAdjust="spacingAndGlyphs" >4120</text>
<line x1="1269.1" y1="211.1" x2="1269.1" y2="214.6" stroke="#333" stroke-width="1"/>
<text x="1269.1" y="224.3" font-family="Liberation Sans" font-size="9.0" fill="#000" text-anchor="middle" textLength="22.9" lengthAdjust="spacingAndGlyphs" >4140</text>
<text x="1049.3" y="71.2" font-family="Liberation Sans" font-size="9" fill="#000" text-anchor="start"  >e</text>
<text x="1054.6" y="66.4" font-family="Liberation Sans" font-size="6.2" fill="#000" text-anchor="start"  >−17</text>
<text x="1066.6" y="71.2" font-family="Liberation Sans" font-size="9" fill="#000" text-anchor="start"  >x2</text>
<text x="1076.5" y="71.2" font-family="Liberation Sans" font-style="italic" font-size="9">Å</text>
<rect x="431.9" y="348.3" width="55" height="84.0" fill="#bfbf00"/>
<rect x="125.7" y="348.3" width="12.2" height="84.0" fill="#a0a0a0" stroke="#222" stroke-width="1"/>
<line x1="126.2" y1="371.4" x2="137.4" y2="360.7" stroke="#222" stroke-width="1"/>
<line x1="126.2" y1="395.0" x2="137.4" y2="384.3" stroke="#222" stroke-width="1"/>
<line x1="126.2" y1="418.6" x2="137.4" y2="407.9" stroke="#222" stroke-width="1"/>
<rect x="1261.1" y="348.3" width="6.3" height="84.0" fill="#a0a0a0" stroke="#222" stroke-width="1"/>
<line x1="1261.6" y1="357.9" x2="1266.9" y2="353.3" stroke="#222" stroke-width="1"/>
<line x1="1261.6" y1="379.3" x2="1266.9" y2="374.7" stroke="#222" stroke-width="1"/>
<line x1="1261.6" y1="402.9" x2="1266.9" y2="398.3" stroke="#222" stroke-width="1"/>
<line x1="1261.6" y1="427.1" x2="1266.9" y2="422.5" stroke="#222" stroke-width="1"/>
<line x1="119.3" y1="348.3" x2="119.3" y2="432.3" stroke="#555" stroke-width="1.3" stroke-dasharray="4.5,2.5"/>
<line x1="147.4" y1="348.3" x2="147.4" y2="432.3" stroke="#555" stroke-width="1.3" stroke-dasharray="4.5,2.5"/>
<line x1="169" y1="348.3" x2="169" y2="432.3" stroke="#555" stroke-width="1.3" stroke-dasharray="4.5,2.5"/>
<line x1="191.4" y1="348.3" x2="191.4" y2="432.3" stroke="#555" stroke-width="1.3" stroke-dasharray="4.5,2.5"/>
<line x1="244.3" y1="348.3" x2="244.3" y2="432.3" stroke="#555" stroke-width="1.3" stroke-dasharray="4.5,2.5"/>
<line x1="297.6" y1="348.3" x2="297.6" y2="432.3" stroke="#555" stroke-width="1.3" stroke-dasharray="4.5,2.5"/>
<line x1="333.1" y1="348.3" x2="333.1" y2="432.3" stroke="#555" stroke-width="1.3" stroke-dasharray="4.5,2.5"/>
<line x1="360.3" y1="348.3" x2="360.3" y2="432.3" stroke="#555" stroke-width="1.3" stroke-dasharray="4.5,2.5"/>
<line x1="414.7" y1="348.3" x2="414.7" y2="432.3" stroke="#555" stroke-width="1.3" stroke-dasharray="4.5,2.5"/>
<line x1="426.7" y1="348.3" x2="426.7" y2="432.3" stroke="#555" stroke-width="1.3" stroke-dasharray="4.5,2.5"/>
<line x1="495.3" y1="348.3" x2="495.3" y2="432.3" stroke="#555" stroke-width="1.3" stroke-dasharray="4.5,2.5"/>
<line x1="532.9" y1="348.3" x2="532.9" y2="432.3" stroke="#555" stroke-width="1.3" stroke-dasharray="4.5,2.5"/>
<line x1="560" y1="348.3" x2="560" y2="432.3" stroke="#555" stroke-width="1.3" stroke-dasharray="4.5,2.5"/>
<line x1="576.7" y1="348.3" x2="576.7" y2="432.3" stroke="#555" stroke-width="1.3" stroke-dasharray="4.5,2.5"/>
<line x1="621.4" y1="348.3" x2="621.4" y2="432.3" stroke="#555" stroke-width="1.3" stroke-dasharray="4.5,2.5"/>
<line x1="626.1" y1="348.3" x2="626.1" y2="432.3" stroke="#555" stroke-width="1.3" stroke-dasharray="4.5,2.5"/>
<line x1="668.6" y1="348.3" x2="668.6" y2="432.3" stroke="#555" stroke-width="1.3" stroke-dasharray="4.5,2.5"/>
<line x1="713.6" y1="348.3" x2="713.6" y2="432.3" stroke="#555" stroke-width="1.3" stroke-dasharray="4.5,2.5"/>
<line x1="908.3" y1="348.3" x2="908.3" y2="432.3" stroke="#555" stroke-width="1.3" stroke-dasharray="4.5,2.5"/>
<line x1="1092.6" y1="348.3" x2="1092.6" y2="432.3" stroke="#555" stroke-width="1.3" stroke-dasharray="4.5,2.5"/>
<line x1="1112.9" y1="348.3" x2="1112.9" y2="432.3" stroke="#555" stroke-width="1.3" stroke-dasharray="4.5,2.5"/>
<line x1="1149.6" y1="348.3" x2="1149.6" y2="432.3" stroke="#555" stroke-width="1.3" stroke-dasharray="4.5,2.5"/>
<line x1="1183.6" y1="348.3" x2="1183.6" y2="432.3" stroke="#555" stroke-width="1.3" stroke-dasharray="4.5,2.5"/>
<line x1="1231.1" y1="348.3" x2="1231.1" y2="432.3" stroke="#555" stroke-width="1.3" stroke-dasharray="4.5,2.5"/>
<line x1="459.6" y1="348.3" x2="459.6" y2="432.3" stroke="#111" stroke-width="1.2" stroke-dasharray="1.5,1.5"/>
<path d="M101.7,383.6 C102.8,383.7 105.8,385.1 107.1,384.3 C108.5,383.4 107.6,376.7 108.6,379.3 C109.6,381.9 110.9,396.0 112.1,397.1 C113.4,398.3 113.6,384.4 115.0,385.0 C116.4,385.6 117.7,401.4 119.3,400.0 C120.9,398.6 121.6,382.4 122.9,377.9 C124.1,373.3 125.0,376.3 125.7,377.1 C126.4,378.0 125.9,381.6 126.4,382.1 C127.0,382.7 127.0,380.5 128.6,380.0 C130.1,379.5 132.6,378.6 134.3,379.7 C136.0,380.9 136.0,385.1 137.1,385.7 C138.3,386.3 138.3,379.9 140.0,382.9 C141.7,385.9 144.0,399.6 145.7,400.7 C147.4,401.9 147.0,387.7 148.6,388.6 C150.1,389.4 151.6,404.7 153.6,405.0 C155.6,405.3 156.7,395.6 158.6,390.0 C160.4,384.4 160.9,375.9 162.9,377.1 C164.9,378.4 166.9,394.4 168.6,396.4 C170.3,398.4 170.3,387.4 171.4,387.1 C172.6,386.9 172.9,396.7 174.3,395.0 C175.7,393.3 177.0,378.4 178.6,378.6 C180.1,378.7 180.7,395.1 182.1,395.7 C183.6,396.3 184.4,383.4 185.7,381.4 C187.0,379.4 187.4,382.7 188.6,385.7 C189.7,388.7 189.6,398.5 191.4,396.4 C193.3,394.4 195.9,379.1 197.9,375.4 C199.9,371.7 199.6,376.9 201.4,377.9 C203.3,378.8 205.1,378.6 207.1,380.0 C209.1,381.4 209.9,383.4 211.4,385.0 C213.0,386.6 213.9,389.4 215.0,387.9 C216.1,386.3 215.9,379.4 217.1,377.1 C218.4,374.9 219.6,372.6 221.4,376.4 C223.3,380.3 224.6,396.3 226.4,396.4 C228.3,396.6 229.0,375.6 230.7,377.1 C232.4,378.7 233.4,402.7 235.0,404.3 C236.6,405.9 236.9,383.4 238.6,385.0 C240.3,386.6 241.9,410.3 243.6,412.1 C245.3,414.0 245.7,394.7 247.1,394.3 C248.6,393.9 249.1,412.1 250.7,410.0 C252.3,407.9 253.6,387.0 255.0,383.6 C256.4,380.1 256.7,391.9 257.9,392.9 C259.0,393.9 259.6,390.0 260.7,388.6 C261.9,387.1 262.3,388.3 263.6,385.7 C264.9,383.1 265.7,378.7 267.1,375.7 C268.6,372.7 269.6,371.3 270.7,370.7 C271.9,370.1 272.0,370.7 272.9,372.9 C273.7,375.0 274.3,380.0 275.0,381.4 C275.7,382.9 275.9,380.0 276.4,380.0 C277.0,380.0 277.1,379.1 277.9,381.4 C278.6,383.7 279.0,392.6 280.0,391.4 C281.0,390.3 281.4,378.9 282.9,375.7 C284.3,372.6 285.6,373.4 287.1,375.7 C288.7,378.0 289.6,383.7 290.7,387.1 C291.9,390.6 292.0,390.9 292.9,392.9 C293.7,394.9 294.0,394.3 295.0,397.1 C296.0,400.0 296.6,405.0 297.9,407.1 C299.1,409.3 300.3,407.4 301.4,407.9 C302.6,408.3 302.7,410.0 303.6,409.3 C304.4,408.6 304.9,410.7 305.7,404.3 C306.6,397.9 307.1,382.7 307.9,377.1 C308.6,371.6 308.7,376.0 309.3,376.4 C309.9,376.9 310.0,379.1 310.7,379.3 C311.4,379.4 311.7,373.6 312.9,377.1 C314.0,380.7 315.3,395.6 316.4,397.1 C317.6,398.7 317.6,389.9 318.6,385.0 C319.6,380.1 320.3,373.0 321.4,372.9 C322.6,372.7 323.4,381.6 324.3,384.3 C325.1,387.0 325.1,386.1 325.7,386.4 C326.3,386.7 326.4,386.9 327.1,385.7 C327.9,384.6 328.4,380.7 329.3,380.7 C330.1,380.7 330.7,382.4 331.4,385.7 C332.2,389.0 332.3,397.1 333.1,397.1 C334.0,397.1 334.9,388.7 335.7,385.7 C336.6,382.7 336.6,382.0 337.4,382.1 C338.3,382.3 338.8,384.7 340.0,386.4 C341.2,388.1 342.4,391.7 343.6,390.7 C344.7,389.7 344.8,383.7 345.7,381.4 C346.7,379.1 347.4,378.6 348.3,379.3 C349.1,380.0 349.1,382.3 350.0,385.0 C350.9,387.7 351.7,389.7 352.9,392.9 C354.0,396.0 354.6,394.7 355.7,400.7 C356.9,406.7 357.7,417.3 358.6,422.9 C359.5,428.4 359.6,428.9 360.3,428.6 C361.0,428.3 361.3,425.1 362.1,421.4 C362.9,417.7 363.3,415.4 364.3,410.0 C365.3,404.6 365.9,399.4 367.1,394.3 C368.4,389.1 369.6,384.6 370.7,384.3 C371.9,384.0 372.1,392.1 372.9,392.9 C373.6,393.6 373.7,387.9 374.3,387.9 C374.9,387.9 375.0,388.4 375.7,392.9 C376.4,397.3 376.8,403.7 377.9,410.0 C378.9,416.3 380.0,424.0 381.1,424.3 C382.3,424.6 382.7,418.3 383.6,411.4 C384.5,404.6 384.9,396.7 385.7,390.0 C386.6,383.3 386.9,381.0 387.9,377.9 C388.9,374.7 389.3,376.0 390.7,374.3 C392.1,372.6 393.7,369.7 395.0,369.3 C396.3,368.9 396.3,371.9 397.1,372.1 C398.0,372.4 398.4,370.7 399.3,370.7 C400.1,370.7 400.6,372.4 401.4,372.1 C402.3,371.9 402.4,370.6 403.6,369.3 C404.7,368.0 405.9,366.3 407.1,365.7 C408.4,365.1 409.0,366.7 410.0,366.4 C411.0,366.1 411.1,365.0 412.1,364.3 C413.1,363.6 414.0,362.3 415.0,362.9 C416.0,363.4 416.3,364.7 417.1,367.1 C418.0,369.6 418.4,375.0 419.3,375.0 C420.1,375.0 420.6,369.3 421.4,367.1 C422.3,365.0 422.9,363.6 423.6,364.3 C424.3,365.0 424.4,367.4 425.0,370.7 C425.6,374.0 426.0,381.1 426.7,380.7 C427.4,380.3 427.8,372.0 428.6,368.6 C429.4,365.1 429.9,363.6 430.7,363.6 C431.6,363.6 431.6,366.2 432.9,368.6 C434.1,370.9 435.9,375.4 437.1,375.4 C438.4,375.4 438.4,369.2 439.3,368.6 C440.1,367.9 440.6,372.0 441.4,372.1 C442.3,372.3 442.7,370.1 443.6,369.3 C444.4,368.4 444.7,369.1 445.7,367.9 C446.7,366.6 447.2,364.9 448.6,362.9 C449.9,360.9 451.1,358.6 452.6,357.9 C454.0,357.1 454.7,357.4 455.7,359.3 C456.8,361.1 457.1,364.0 457.9,367.1 C458.6,370.3 458.9,374.6 459.6,375.0 C460.3,375.4 460.5,371.7 461.4,369.3 C462.4,366.9 462.9,364.3 464.3,362.9 C465.7,361.4 466.9,362.6 468.6,362.1 C470.3,361.7 471.4,360.4 472.9,360.7 C474.3,361.0 474.6,361.9 475.7,363.6 C476.9,365.3 477.6,369.5 478.6,369.3 C479.6,369.1 479.6,362.4 480.7,362.6 C481.9,362.7 483.0,369.5 484.3,370.0 C485.6,370.5 486.0,366.1 487.1,365.0 C488.3,363.9 488.9,364.6 490.0,364.3 C491.1,364.0 491.8,364.6 492.9,363.6 C493.9,362.6 494.1,359.4 495.3,359.3 C496.4,359.1 497.3,361.2 498.6,362.9 C499.8,364.5 500.0,367.4 501.4,367.4 C502.9,367.4 504.0,362.6 505.7,362.9 C507.4,363.1 508.4,368.4 510.0,368.6 C511.6,368.7 512.4,363.9 513.6,363.6 C514.7,363.3 514.7,365.9 515.7,367.1 C516.7,368.4 517.4,370.4 518.6,370.0 C519.7,369.6 520.3,366.7 521.4,365.0 C522.6,363.3 523.1,361.3 524.3,361.4 C525.4,361.6 526.0,364.6 527.1,365.7 C528.3,366.9 528.9,362.6 530.0,367.1 C531.1,371.7 531.7,388.7 532.9,388.6 C534.0,388.4 534.6,370.4 535.7,366.4 C536.9,362.4 536.9,369.0 538.6,368.6 C540.3,368.1 542.6,363.6 544.3,364.3 C546.0,365.0 545.9,371.0 547.1,372.1 C548.4,373.3 549.3,370.6 550.7,370.0 C552.1,369.4 553.1,370.1 554.3,369.3 C555.4,368.4 555.3,363.4 556.4,365.7 C557.6,368.0 558.6,380.1 560.0,380.7 C561.4,381.3 562.1,370.4 563.6,368.6 C565.0,366.7 566.0,370.0 567.1,371.4 C568.3,372.9 568.3,374.6 569.3,375.7 C570.3,376.9 571.1,376.0 572.1,377.1 C573.1,378.3 573.3,378.9 574.3,381.4 C575.3,384.0 576.1,388.4 577.1,390.0 C578.1,391.6 578.4,388.6 579.3,389.3 C580.1,390.0 580.4,394.6 581.4,393.6 C582.4,392.6 583.0,390.0 584.3,384.3 C585.6,378.6 586.9,368.7 587.9,365.0 C588.9,361.3 588.5,362.3 589.3,365.7 C590.1,369.1 590.4,382.9 591.7,382.1 C593.0,381.4 594.5,365.4 595.7,362.1 C596.9,358.9 596.9,362.4 597.9,365.7 C598.9,369.0 599.3,378.3 600.7,378.6 C602.1,378.9 603.5,368.4 605.0,367.1 C606.5,365.9 607.0,372.0 608.3,372.1 C609.6,372.3 609.7,369.4 611.4,367.9 C613.2,366.3 615.1,364.1 617.1,364.3 C619.1,364.4 620.4,367.4 621.4,368.6 C622.4,369.7 621.6,369.6 622.1,370.0 C622.7,370.4 623.4,368.1 624.3,370.7 C625.1,373.3 625.6,382.7 626.4,382.9 C627.3,383.0 627.7,374.4 628.6,371.4 C629.4,368.4 629.9,368.7 630.7,367.9 C631.6,367.0 631.9,367.6 632.9,367.1 C633.9,366.7 634.4,364.3 635.7,365.7 C637.0,367.1 638.0,374.6 639.3,374.3 C640.6,374.0 641.1,365.9 642.1,364.3 C643.1,362.7 643.0,367.4 644.3,366.4 C645.6,365.4 647.1,360.0 648.6,359.3 C650.0,358.6 650.4,362.4 651.4,362.9 C652.4,363.3 652.6,360.9 653.6,361.4 C654.6,362.0 655.3,365.7 656.4,365.7 C657.6,365.7 658.0,362.4 659.3,361.4 C660.6,360.4 661.6,361.1 662.9,360.7 C664.1,360.3 664.9,358.9 665.7,359.3 C666.6,359.7 666.6,361.1 667.1,362.9 C667.7,364.6 667.7,367.7 668.6,367.9 C669.4,368.0 670.0,365.1 671.4,363.6 C672.9,362.0 674.4,360.4 675.7,360.0 C677.0,359.6 677.0,362.0 677.9,361.4 C678.7,360.9 678.7,357.6 680.0,357.1 C681.3,356.7 682.9,359.3 684.3,359.3 C685.7,359.3 685.6,358.0 687.1,357.1 C688.7,356.3 690.7,355.1 692.1,355.0 C693.6,354.9 692.9,356.9 694.3,356.4 C695.7,356.0 697.6,353.0 699.3,352.9 C701.0,352.7 701.9,355.0 702.9,355.7 C703.9,356.4 703.4,356.7 704.3,356.4 C705.1,356.1 706.0,354.0 707.1,354.3 C708.3,354.6 709.0,356.4 710.0,357.9 C711.0,359.3 711.3,360.6 712.1,361.4 C713.0,362.3 713.4,362.4 714.3,362.1 C715.1,361.9 715.4,361.4 716.4,360.0 C717.4,358.6 718.1,355.6 719.3,355.0 C720.4,354.4 721.0,356.4 722.1,357.1 C723.3,357.9 723.9,358.0 725.0,358.6 C726.1,359.1 726.7,360.9 727.9,360.0 C729.0,359.1 729.4,355.7 730.7,354.3 C732.0,352.9 733.0,352.6 734.3,352.9 C735.6,353.1 736.1,355.6 737.1,355.7 C738.1,355.9 738.1,353.0 739.3,353.6 C740.4,354.1 741.6,358.1 742.9,358.6 C744.1,359.0 744.6,356.4 745.7,355.7 C746.9,355.0 747.1,355.4 748.6,355.0 C750.0,354.6 751.4,353.4 752.9,353.6 C754.3,353.7 754.3,355.6 755.7,355.7 C757.1,355.9 758.3,354.3 760.0,354.3 C761.7,354.3 762.6,355.9 764.3,355.7 C766.0,355.6 767.1,353.7 768.6,353.6 C770.0,353.4 770.0,355.2 771.4,355.0 C772.9,354.8 774.3,352.7 775.7,352.6 C777.1,352.4 777.1,353.4 778.6,354.3 C780.0,355.2 781.1,357.0 782.9,357.1 C784.6,357.3 785.6,355.7 787.1,355.0 C788.7,354.3 789.3,353.1 790.7,353.6 C792.1,354.0 792.7,356.9 794.3,357.1 C795.9,357.4 797.1,355.3 798.6,355.0 C800.0,354.7 800.3,355.9 801.4,355.7 C802.6,355.6 803.1,354.6 804.3,354.3 C805.4,353.9 806.3,353.7 807.1,354.0 C808.0,354.3 807.7,356.0 808.6,355.7 C809.4,355.4 810.6,352.7 811.4,352.6 C812.3,352.4 812.1,353.7 812.9,355.0 C813.6,356.3 814.1,359.3 815.0,359.3 C815.9,359.3 816.3,355.6 817.1,355.0 C818.0,354.4 818.1,356.6 819.3,356.4 C820.4,356.3 821.1,355.0 822.9,354.3 C824.6,353.6 826.1,352.7 827.9,352.9 C829.6,353.0 830.0,354.3 831.4,355.0 C832.9,355.7 833.7,356.6 835.0,356.4 C836.3,356.3 836.7,354.4 837.9,354.3 C839.0,354.1 839.7,355.7 840.7,355.7 C841.7,355.7 841.9,354.3 842.9,354.3 C843.9,354.2 844.6,354.9 845.7,355.4 C846.9,356.0 847.1,356.7 848.6,357.1 C850.0,357.6 851.4,357.4 852.9,357.9 C854.3,358.3 854.6,359.9 855.7,359.3 C856.9,358.7 857.4,355.3 858.6,355.0 C859.7,354.7 860.3,357.1 861.4,357.9 C862.6,358.6 863.0,358.7 864.3,358.6 C865.6,358.4 866.6,357.7 867.9,357.1 C869.1,356.6 869.4,356.1 870.7,355.7 C872.0,355.4 873.0,355.1 874.3,355.4 C875.6,355.7 876.0,357.1 877.1,357.1 C878.3,357.1 878.6,355.7 880.0,355.4 C881.4,355.1 882.9,355.2 884.3,355.7 C885.7,356.2 885.4,357.4 887.1,357.9 C888.9,358.3 891.1,357.6 892.9,357.9 C894.6,358.1 894.6,359.3 895.7,359.3 C896.9,359.3 897.4,358.4 898.6,357.9 C899.7,357.3 900.3,356.4 901.4,356.4 C902.6,356.4 903.3,356.3 904.3,357.9 C905.3,359.4 905.6,361.1 906.4,364.3 C907.3,367.4 907.7,373.7 908.6,373.6 C909.4,373.4 909.9,366.0 910.7,363.6 C911.6,361.1 911.9,362.0 912.9,361.4 C913.9,360.9 914.6,361.1 915.7,360.7 C916.9,360.3 917.4,359.9 918.6,359.3 C919.7,358.7 920.4,357.7 921.4,357.9 C922.4,358.0 922.8,358.6 923.6,360.0 C924.4,361.4 924.7,365.1 925.4,365.0 C926.1,364.9 926.2,361.1 927.1,359.3 C928.1,357.4 929.0,355.9 930.0,355.7 C931.0,355.6 931.0,358.1 932.1,358.6 C933.3,359.0 934.3,358.3 935.7,357.9 C937.1,357.4 937.9,355.1 939.3,356.4 C940.7,357.7 941.7,363.3 942.9,364.3 C944.0,365.3 944.1,362.7 945.0,361.4 C945.9,360.1 946.1,358.7 947.1,357.9 C948.1,357.0 948.9,356.6 950.0,357.1 C951.1,357.7 951.6,360.6 952.9,360.7 C954.1,360.9 954.9,358.9 956.4,357.9 C958.0,356.9 959.4,355.7 960.7,355.7 C962.0,355.7 962.1,356.3 962.9,357.9 C963.6,359.4 963.7,363.6 964.6,363.6 C965.4,363.6 965.8,359.1 967.1,357.9 C968.5,356.6 969.7,357.3 971.4,357.1 C973.1,357.0 973.9,355.9 975.7,357.1 C977.6,358.4 979.0,363.1 980.7,363.6 C982.4,364.0 983.0,360.3 984.3,359.3 C985.6,358.2 986.0,358.1 987.1,358.3 C988.3,358.4 988.9,359.7 990.0,360.0 C991.1,360.3 991.9,359.4 992.9,360.0 C993.9,360.6 994.1,363.0 995.0,363.1 C995.9,363.3 996.1,360.6 997.1,360.7 C998.1,360.8 998.9,363.7 1000.0,363.6 C1001.1,363.4 1001.6,360.8 1002.9,360.0 C1004.1,359.2 1005.1,360.1 1006.4,359.7 C1007.7,359.3 1008.1,357.4 1009.3,357.9 C1010.4,358.3 1011.3,360.9 1012.1,362.1 C1013.0,363.4 1012.9,364.6 1013.6,364.3 C1014.3,364.0 1014.6,361.7 1015.7,360.7 C1016.9,359.7 1018.0,359.9 1019.3,359.3 C1020.6,358.7 1021.1,358.0 1022.1,357.9 C1023.1,357.7 1023.4,358.3 1024.3,358.6 C1025.1,358.9 1025.6,358.8 1026.4,359.3 C1027.3,359.8 1027.6,361.0 1028.6,361.1 C1029.6,361.3 1030.3,360.1 1031.4,360.0 C1032.6,359.9 1033.0,360.1 1034.3,360.7 C1035.6,361.3 1036.6,363.1 1037.9,363.1 C1039.1,363.1 1039.4,361.5 1040.7,360.7 C1042.0,359.9 1043.0,359.3 1044.3,359.3 C1045.6,359.3 1046.0,359.9 1047.1,360.7 C1048.3,361.6 1049.0,363.4 1050.0,363.6 C1051.0,363.7 1051.3,361.7 1052.1,361.4 C1053.0,361.1 1053.3,362.4 1054.3,362.1 C1055.3,361.9 1056.1,360.7 1057.1,360.0 C1058.1,359.3 1058.3,358.1 1059.3,358.6 C1060.3,359.0 1061.1,361.0 1062.1,362.1 C1063.1,363.3 1063.4,364.4 1064.3,364.3 C1065.1,364.1 1065.3,361.6 1066.4,361.4 C1067.6,361.3 1068.7,362.7 1070.0,363.6 C1071.3,364.4 1071.6,366.0 1072.9,365.7 C1074.1,365.4 1075.0,362.4 1076.4,362.1 C1077.9,361.9 1078.7,364.6 1080.0,364.3 C1081.3,364.0 1081.7,361.5 1082.9,360.7 C1084.0,359.9 1084.9,359.6 1085.7,360.3 C1086.6,361.0 1086.4,361.2 1087.1,364.3 C1087.9,367.4 1088.3,371.7 1089.3,375.7 C1090.2,379.7 1090.9,385.1 1091.9,384.3 C1092.9,383.4 1093.5,375.3 1094.3,371.4 C1095.1,367.6 1095.1,364.4 1095.7,365.0 C1096.4,365.6 1096.9,370.4 1097.6,374.3 C1098.2,378.1 1098.4,384.6 1099.0,384.3 C1099.6,384.0 1100.0,376.9 1100.7,372.9 C1101.4,368.9 1101.7,365.7 1102.6,364.3 C1103.4,362.9 1104.1,366.0 1105.0,365.7 C1105.9,365.4 1106.3,364.0 1107.1,362.9 C1108.0,361.7 1108.4,359.6 1109.3,360.0 C1110.1,360.4 1110.7,362.9 1111.4,365.0 C1112.1,367.1 1112.1,371.1 1112.9,370.7 C1113.6,370.3 1113.9,364.9 1115.0,362.9 C1116.1,360.9 1117.3,361.3 1118.6,360.7 C1119.9,360.1 1120.3,359.3 1121.4,360.0 C1122.6,360.7 1123.0,363.6 1124.3,364.3 C1125.6,365.0 1126.6,364.7 1127.9,363.6 C1129.1,362.4 1129.4,359.7 1130.7,358.6 C1132.0,357.4 1132.9,357.7 1134.3,357.9 C1135.7,358.0 1136.6,359.3 1137.9,359.3 C1139.1,359.3 1139.7,358.3 1140.7,357.9 C1141.7,357.4 1142.0,355.7 1142.9,357.1 C1143.7,358.6 1144.1,363.0 1145.0,365.0 C1145.9,367.0 1146.2,366.1 1147.1,367.1 C1148.1,368.1 1148.7,370.9 1149.7,370.0 C1150.7,369.1 1151.2,365.1 1152.1,362.9 C1153.1,360.6 1153.3,359.0 1154.3,358.6 C1155.3,358.1 1156.0,360.9 1157.1,360.7 C1158.3,360.6 1158.9,358.7 1160.0,357.9 C1161.1,357.0 1161.7,356.1 1162.9,356.4 C1164.0,356.7 1164.6,358.4 1165.7,359.3 C1166.9,360.1 1167.4,360.9 1168.6,360.7 C1169.7,360.6 1170.1,359.3 1171.4,358.6 C1172.7,357.9 1173.7,357.3 1175.0,357.1 C1176.3,357.0 1176.9,357.6 1177.9,357.9 C1178.9,358.1 1179.1,357.4 1180.0,358.6 C1180.9,359.7 1181.4,361.8 1182.1,363.6 C1182.9,365.3 1183.1,367.7 1183.9,367.4 C1184.6,367.1 1184.9,363.8 1185.7,362.1 C1186.5,360.5 1187.0,359.7 1187.9,359.3 C1188.7,358.9 1189.1,359.4 1190.0,360.0 C1190.9,360.6 1191.1,362.1 1192.1,362.1 C1193.1,362.1 1193.9,360.3 1195.0,360.0 C1196.1,359.7 1197.0,361.0 1197.9,360.7 C1198.7,360.4 1198.5,359.6 1199.3,358.6 C1200.1,357.6 1200.9,355.9 1201.7,355.7 C1202.6,355.6 1202.8,356.7 1203.6,357.9 C1204.4,359.0 1204.7,360.3 1205.7,361.4 C1206.7,362.6 1207.4,363.9 1208.6,363.6 C1209.7,363.3 1210.4,361.4 1211.4,360.0 C1212.4,358.6 1212.7,356.7 1213.6,356.4 C1214.4,356.1 1214.9,358.6 1215.7,358.6 C1216.6,358.6 1217.0,356.4 1217.9,356.4 C1218.7,356.4 1219.1,358.0 1220.0,358.6 C1220.9,359.1 1221.3,358.7 1222.1,359.3 C1223.0,359.9 1223.3,361.1 1224.3,361.4 C1225.3,361.7 1225.9,360.1 1227.1,360.7 C1228.4,361.3 1229.6,364.0 1230.7,364.3 C1231.9,364.6 1231.9,363.0 1232.9,362.1 C1233.9,361.3 1234.6,360.9 1235.7,360.0 C1236.9,359.1 1237.4,357.9 1238.6,357.9 C1239.7,357.9 1240.3,359.7 1241.4,360.0 C1242.6,360.3 1243.0,359.1 1244.3,359.3 C1245.6,359.5 1246.4,361.6 1247.9,361.1 C1249.3,360.7 1250.4,357.4 1251.4,357.1 C1252.4,356.9 1252.1,359.3 1252.9,360.0 C1253.6,360.7 1254.3,360.9 1255.0,360.7 C1255.7,360.6 1255.9,359.4 1256.4,359.3 C1257.0,359.1 1257.0,360.1 1257.9,360.0 C1258.7,359.9 1259.4,358.7 1260.7,358.6 C1262.0,358.4 1263.0,359.4 1264.3,359.3 C1265.6,359.1 1266.0,357.9 1267.1,357.9 C1268.3,357.9 1268.9,358.9 1270.0,359.3 C1271.1,359.7 1271.7,360.3 1272.9,360.0 C1274.0,359.7 1274.6,358.1 1275.7,357.9 C1276.9,357.6 1277.4,358.7 1278.6,358.6 C1279.7,358.4 1280.1,357.0 1281.4,357.1 C1282.7,357.3 1283.7,359.0 1285.0,359.3 C1286.3,359.6 1286.6,359.1 1287.9,358.6 C1289.1,358.0 1290.4,356.3 1291.4,356.4 C1292.4,356.6 1292.0,358.9 1292.9,359.3 C1293.7,359.7 1294.4,358.7 1295.7,358.6 C1297.1,358.4 1298.8,358.6 1299.6,358.6" fill="none" stroke="#0000ff" stroke-width="1.15" stroke-linejoin="round"/>
<rect x="101.7" y="348.3" width="1197.9" height="84.0" fill="none" stroke="#333" stroke-width="1"/>
<line x1="98.2" y1="407.1" x2="101.7" y2="407.1" stroke="#333" stroke-width="1"/>
<text x="95.1" y="410.7" font-family="Liberation Sans" font-size="10" fill="#000" text-anchor="end" textLength="19.1" lengthAdjust="spacingAndGlyphs" >100</text>
<line x1="98.2" y1="371.4" x2="101.7" y2="371.4" stroke="#333" stroke-width="1"/>
<text x="95.1" y="375.0" font-family="Liberation Sans" font-size="10" fill="#000" text-anchor="end" textLength="19.1" lengthAdjust="spacingAndGlyphs" >200</text>
<line x1="105.4" y1="432.3" x2="105.4" y2="435.8" stroke="#333" stroke-width="1"/>
<text x="105.4" y="447.2" font-family="Liberation Sans" font-size="10" fill="#000" text-anchor="middle" textLength="25.4" lengthAdjust="spacingAndGlyphs" >3500</text>
<line x1="164.5" y1="432.3" x2="164.5" y2="435.8" stroke="#333" stroke-width="1"/>
<text x="164.5" y="447.2" font-family="Liberation Sans" font-size="10" fill="#000" text-anchor="middle" textLength="25.4" lengthAdjust="spacingAndGlyphs" >3600</text>
<line x1="223.5" y1="432.3" x2="223.5" y2="435.8" stroke="#333" stroke-width="1"/>
<text x="223.5" y="447.2" font-family="Liberation Sans" font-size="10" fill="#000" text-anchor="middle" textLength="25.4" lengthAdjust="spacingAndGlyphs" >3700</text>
<line x1="282.6" y1="432.3" x2="282.6" y2="435.8" stroke="#333" stroke-width="1"/>
<text x="282.6" y="447.2" font-family="Liberation Sans" font-size="10" fill="#000" text-anchor="middle" textLength="25.4" lengthAdjust="spacingAndGlyphs" >3800</text>
<line x1="341.7" y1="432.3" x2="341.7" y2="435.8" stroke="#333" stroke-width="1"/>
<text x="341.7" y="447.2" font-family="Liberation Sans" font-size="10" fill="#000" text-anchor="middle" textLength="25.4" lengthAdjust="spacingAndGlyphs" >3900</text>
<line x1="400.8" y1="432.3" x2="400.8" y2="435.8" stroke="#333" stroke-width="1"/>
<text x="400.8" y="447.2" font-family="Liberation Sans" font-size="10" fill="#000" text-anchor="middle" textLength="25.4" lengthAdjust="spacingAndGlyphs" >4000</text>
<line x1="459.8" y1="432.3" x2="459.8" y2="435.8" stroke="#333" stroke-width="1"/>
<text x="459.8" y="447.2" font-family="Liberation Sans" font-size="10" fill="#000" text-anchor="middle" textLength="25.4" lengthAdjust="spacingAndGlyphs" >4100</text>
<line x1="518.9" y1="432.3" x2="518.9" y2="435.8" stroke="#333" stroke-width="1"/>
<text x="518.9" y="447.2" font-family="Liberation Sans" font-size="10" fill="#000" text-anchor="middle" textLength="25.4" lengthAdjust="spacingAndGlyphs" >4200</text>
<line x1="578.0" y1="432.3" x2="578.0" y2="435.8" stroke="#333" stroke-width="1"/>
<text x="578.0" y="447.2" font-family="Liberation Sans" font-size="10" fill="#000" text-anchor="middle" textLength="25.4" lengthAdjust="spacingAndGlyphs" >4300</text>
<line x1="637.0" y1="432.3" x2="637.0" y2="435.8" stroke="#333" stroke-width="1"/>
<text x="637.0" y="447.2" font-family="Liberation Sans" font-size="10" fill="#000" text-anchor="middle" textLength="25.4" lengthAdjust="spacingAndGlyphs" >4400</text>
<line x1="696.1" y1="432.3" x2="696.1" y2="435.8" stroke="#333" stroke-width="1"/>
<text x="696.1" y="447.2" font-family="Liberation Sans" font-size="10" fill="#000" text-anchor="middle" textLength="25.4" lengthAdjust="spacingAndGlyphs" >4500</text>
<line x1="755.2" y1="432.3" x2="755.2" y2="435.8" stroke="#333" stroke-width="1"/>
<text x="755.2" y="447.2" font-family="Liberation Sans" font-size="10" fill="#000" text-anchor="middle" textLength="25.4" lengthAdjust="spacingAndGlyphs" >4600</text>
<line x1="814.2" y1="432.3" x2="814.2" y2="435.8" stroke="#333" stroke-width="1"/>
<text x="814.2" y="447.2" font-family="Liberation Sans" font-size="10" fill="#000" text-anchor="middle" textLength="25.4" lengthAdjust="spacingAndGlyphs" >4700</text>
<line x1="873.3" y1="432.3" x2="873.3" y2="435.8" stroke="#333" stroke-width="1"/>
<text x="873.3" y="447.2" font-family="Liberation Sans" font-size="10" fill="#000" text-anchor="middle" textLength="25.4" lengthAdjust="spacingAndGlyphs" >4800</text>
<line x1="932.4" y1="432.3" x2="932.4" y2="435.8" stroke="#333" stroke-width="1"/>
<text x="932.4" y="447.2" font-family="Liberation Sans" font-size="10" fill="#000" text-anchor="middle" textLength="25.4" lengthAdjust="spacingAndGlyphs" >4900</text>
<line x1="991.4" y1="432.3" x2="991.4" y2="435.8" stroke="#333" stroke-width="1"/>
<text x="991.4" y="447.2" font-family="Liberation Sans" font-size="10" fill="#000" text-anchor="middle" textLength="25.4" lengthAdjust="spacingAndGlyphs" >5000</text>
<line x1="1050.5" y1="432.3" x2="1050.5" y2="435.8" stroke="#333" stroke-width="1"/>
<text x="1050.5" y="447.2" font-family="Liberation Sans" font-size="10" fill="#000" text-anchor="middle" textLength="25.4" lengthAdjust="spacingAndGlyphs" >5100</text>
<line x1="1109.6" y1="432.3" x2="1109.6" y2="435.8" stroke="#333" stroke-width="1"/>
<text x="1109.6" y="447.2" font-family="Liberation Sans" font-size="10" fill="#000" text-anchor="middle" textLength="25.4" lengthAdjust="spacingAndGlyphs" >5200</text>
<line x1="1168.7" y1="432.3" x2="1168.7" y2="435.8" stroke="#333" stroke-width="1"/>
<text x="1168.7" y="447.2" font-family="Liberation Sans" font-size="10" fill="#000" text-anchor="middle" textLength="25.4" lengthAdjust="spacingAndGlyphs" >5300</text>
<line x1="1227.7" y1="432.3" x2="1227.7" y2="435.8" stroke="#333" stroke-width="1"/>
<text x="1227.7" y="447.2" font-family="Liberation Sans" font-size="10" fill="#000" text-anchor="middle" textLength="25.4" lengthAdjust="spacingAndGlyphs" >5400</text>
<line x1="1286.8" y1="432.3" x2="1286.8" y2="435.8" stroke="#333" stroke-width="1"/>
<text x="1286.8" y="447.2" font-family="Liberation Sans" font-size="10" fill="#000" text-anchor="middle" textLength="25.4" lengthAdjust="spacingAndGlyphs" >5500</text>
<text x="105.2" y="346.0" font-family="Liberation Sans" font-size="9.7" fill="#000" text-anchor="start"  >e</text>
<text x="111.0" y="341.0" font-family="Liberation Sans" font-size="6.5" fill="#000" text-anchor="start"  >−17</text>
<text x="126.3" y="346.0" font-family="Liberation Sans" font-size="9.9" fill="#000" text-anchor="start"  >x2</text>
<text x="137.3" y="346" font-family="Liberation Sans" font-style="italic" font-size="9.9">Å</text>
<rect x="426.8" y="450" width="16.9" height="6.4" fill="#ff0000"/>
<text x="450.0" y="456.2" font-family="Liberation Sans" font-size="8.6" fill="#333" text-anchor="start" textLength="14.8" lengthAdjust="spacingAndGlyphs" >Lyα</text>
<rect x="480.3" y="450" width="16.9" height="6.4" fill="#008000"/>
<text x="500.3" y="456.2" font-family="Liberation Sans" font-size="8.6" fill="#333" text-anchor="start" textLength="11.8" lengthAdjust="spacingAndGlyphs" >OII</text>
<rect x="533" y="450" width="16.9" height="6.4" fill="#8a2be2"/>
<text x="553.0" y="456.2" font-family="Liberation Sans" font-size="8.6" fill="#333" text-anchor="start" textLength="14.4" lengthAdjust="spacingAndGlyphs" >CIV</text>
<rect x="587.9" y="450" width="16.9" height="6.4" fill="#800080"/>
<text x="607.9" y="456.2" font-family="Liberation Sans" font-size="8.6" fill="#333" text-anchor="start" textLength="13.6" lengthAdjust="spacingAndGlyphs" >CIII</text>
<rect x="640" y="450" width="16.9" height="6.4" fill="#ff00ff"/>
<text x="660.0" y="456.2" font-family="Liberation Sans" font-size="8.6" fill="#333" text-anchor="start" textLength="18.0" lengthAdjust="spacingAndGlyphs" >MgII</text>
<rect x="696" y="450" width="16.9" height="6.4" fill="#4169e1"/>
<text x="716.0" y="456.2" font-family="Liberation Sans" font-size="8.6" fill="#333" text-anchor="start" textLength="11.1" lengthAdjust="spacingAndGlyphs" >Hε</text>
<rect x="745" y="450" width="16.9" height="6.4" fill="#ffa500"/>
<text x="765.0" y="456.2" font-family="Liberation Sans" font-size="8.6" fill="#333" text-anchor="start" textLength="16.8" lengthAdjust="spacingAndGlyphs" >HeII</text>
<rect x="800" y="450" width="16.9" height="6.4" fill="#ff1493"/>
<text x="820.0" y="456.2" font-family="Liberation Sans" font-size="8.6" fill="#333" text-anchor="start" textLength="19.3" lengthAdjust="spacingAndGlyphs" >NeIII</text>
<rect x="856.7" y="450" width="16.9" height="6.4" fill="#87ceeb"/>
<text x="876.7" y="456.2" font-family="Liberation Sans" font-size="8.6" fill="#333" text-anchor="start" textLength="28.7" lengthAdjust="spacingAndGlyphs" >(K)CaII</text>
<rect x="922.9" y="450" width="16.9" height="6.4" fill="#87cefa"/>
<text x="942.9" y="456.2" font-family="Liberation Sans" font-size="8.6" fill="#333" text-anchor="start" textLength="29.5" lengthAdjust="spacingAndGlyphs" >(H)CaII</text>
<text transform="translate(116.1,320.4) rotate(90)" font-family="Liberation Sans" font-size="9.5" fill="#a61ea6" textLength="18.9" lengthAdjust="spacingAndGlyphs">HeII</text>
<text transform="translate(116.7,343.6) rotate(90)" font-family="Liberation Sans" font-size="9.5" fill="#a61ea6">{</text>
<text transform="translate(219.6,321.3) rotate(90)" font-family="Liberation Sans" font-size="9.5" fill="#9932cc" textLength="18.0" lengthAdjust="spacingAndGlyphs">SiIV</text>
<text transform="translate(220.2,343.6) rotate(90)" font-family="Liberation Sans" font-size="9.5" fill="#9932cc">{</text>
<text transform="translate(309.4,322.4) rotate(90)" font-family="Liberation Sans" font-size="9.5" fill="#4169e1" textLength="13.6" lengthAdjust="spacingAndGlyphs">OII</text>
<text transform="translate(309.9,343.6) rotate(90)" font-family="Liberation Sans" font-size="9.5" fill="#4169e1">{</text>
<text transform="translate(322.5,319.9) rotate(90)" font-family="Liberation Sans" font-size="9.5" fill="#ffa500" textLength="16.1" lengthAdjust="spacingAndGlyphs">CIV</text>
<text transform="translate(323.0,343.6) rotate(90)" font-family="Liberation Sans" font-size="9.5" fill="#ffa500">{</text>
<text transform="translate(330.5,322.4) rotate(90)" font-family="Liberation Sans" font-size="9.5" fill="#87cefa" textLength="13.6" lengthAdjust="spacingAndGlyphs">OII</text>
<text transform="translate(331.0,343.6) rotate(90)" font-family="Liberation Sans" font-size="9.5" fill="#87cefa">{</text>
<text transform="translate(407.3,328.0) rotate(90)" font-family="Liberation Sans" font-size="9.5" fill="#4169e1" textLength="13.0" lengthAdjust="spacingAndGlyphs">Hζ</text>
<text transform="translate(407.8,343.6) rotate(90)" font-family="Liberation Sans" font-size="9.5" fill="#4169e1">{</text>
<text transform="translate(434.6,307.7) rotate(90)" font-family="Liberation Sans" font-size="9.5" fill="#4169e1" textLength="31.4" lengthAdjust="spacingAndGlyphs">(K)CaII</text>
<text transform="translate(435.1,343.6) rotate(90)" font-family="Liberation Sans" font-size="9.5" fill="#4169e1">{</text>
<text transform="translate(478.7,306.7) rotate(90)" font-family="Liberation Sans" font-size="9.5" fill="#87cefa" textLength="32.4" lengthAdjust="spacingAndGlyphs">(H)CaII</text>
<text transform="translate(479.2,343.6) rotate(90)" font-family="Liberation Sans" font-size="9.5" fill="#87cefa">{</text>
<text transform="translate(507.3,320.0) rotate(90)" font-family="Liberation Sans" font-size="9.5" fill="#ff0000" textLength="14.0" lengthAdjust="spacingAndGlyphs">NV</text>
<text transform="translate(507.8,343.6) rotate(90)" font-family="Liberation Sans" font-size="9.5" fill="#ff0000">{</text>
<text transform="translate(598.9,320.5) rotate(90)" font-family="Liberation Sans" font-size="9.5" fill="#9932cc" textLength="18.0" lengthAdjust="spacingAndGlyphs">HeII</text>
<text transform="translate(599.4,343.6) rotate(90)" font-family="Liberation Sans" font-size="9.5" fill="#9932cc">{</text>
<text transform="translate(613.3,306.7) rotate(90)" font-family="Liberation Sans" font-size="9.5" fill="#008000" textLength="32.4" lengthAdjust="spacingAndGlyphs">(H)CaII</text>
<text transform="translate(613.9,343.6) rotate(90)" font-family="Liberation Sans" font-size="9.5" fill="#008000">{</text>
<text transform="translate(683.5,327.8) rotate(90)" font-family="Liberation Sans" font-size="9.5" fill="#4169e1" textLength="13.2" lengthAdjust="spacingAndGlyphs">Hγ</text>
<text transform="translate(684.0,343.6) rotate(90)" font-family="Liberation Sans" font-size="9.5" fill="#4169e1">{</text>
<text transform="translate(819.9,321.3) rotate(90)" font-family="Liberation Sans" font-size="9.5" fill="#ff0000" textLength="18.0" lengthAdjust="spacingAndGlyphs">SiIV</text>
<text transform="translate(820.4,343.6) rotate(90)" font-family="Liberation Sans" font-size="9.5" fill="#ff0000">{</text>
<text transform="translate(854.9,327.8) rotate(90)" font-family="Liberation Sans" font-size="9.5" fill="#008000" textLength="13.2" lengthAdjust="spacingAndGlyphs">Hγ</text>
<text transform="translate(855.4,343.6) rotate(90)" font-family="Liberation Sans" font-size="9.5" fill="#008000">{</text>
<text transform="translate(984.8,323.5) rotate(90)" font-family="Liberation Sans" font-size="9.5" fill="#800080" textLength="13.5" lengthAdjust="spacingAndGlyphs">CII</text>
<text transform="translate(985.4,343.6) rotate(90)" font-family="Liberation Sans" font-size="9.5" fill="#800080">{</text>
<text transform="translate(1000.6,327.1) rotate(90)" font-family="Liberation Sans" font-size="9.5" fill="#4169e1" textLength="13.1" lengthAdjust="spacingAndGlyphs">Hβ</text>
<text transform="translate(1001.1,343.6) rotate(90)" font-family="Liberation Sans" font-size="9.5" fill="#4169e1">{</text>
<text transform="translate(1018.3,323.4) rotate(90)" font-family="Liberation Sans" font-size="9.5" fill="#9932cc" textLength="15.6" lengthAdjust="spacingAndGlyphs">CIII</text>
<text transform="translate(1018.9,343.6) rotate(90)" font-family="Liberation Sans" font-size="9.5" fill="#9932cc">{</text>
<text transform="translate(1028.6,327.1) rotate(90)" font-family="Liberation Sans" font-size="9.5" fill="#87cefa" textLength="13.1" lengthAdjust="spacingAndGlyphs">Hβ</text>
<text transform="translate(1029.2,343.6) rotate(90)" font-family="Liberation Sans" font-size="9.5" fill="#87cefa">{</text>
<text transform="translate(1060.1,323.5) rotate(90)" font-family="Liberation Sans" font-size="9.5" fill="#4169e1" textLength="15.5" lengthAdjust="spacingAndGlyphs">OIII</text>
<text transform="translate(1060.7,343.6) rotate(90)" font-family="Liberation Sans" font-size="9.5" fill="#4169e1">{</text>
<text transform="translate(1089.2,323.5) rotate(90)" font-family="Liberation Sans" font-size="9.5" fill="#4169e1" textLength="15.5" lengthAdjust="spacingAndGlyphs">OIII</text>
<text transform="translate(1089.8,343.6) rotate(90)" font-family="Liberation Sans" font-size="9.5" fill="#4169e1">{</text>
<text transform="translate(1122.0,319.8) rotate(90)" font-family="Liberation Sans" font-size="9.5" fill="#ff0000" textLength="16.7" lengthAdjust="spacingAndGlyphs">CIV</text>
<text transform="translate(1122.6,343.6) rotate(90)" font-family="Liberation Sans" font-size="9.5" fill="#ff0000">{</text>
<text transform="translate(1193.6,327.1) rotate(90)" font-family="Liberation Sans" font-size="9.5" fill="#008000" textLength="13.1" lengthAdjust="spacingAndGlyphs">Hβ</text>
<text transform="translate(1194.2,343.6) rotate(90)" font-family="Liberation Sans" font-size="9.5" fill="#008000">{</text>
<text transform="translate(1256.8,323.5) rotate(90)" font-family="Liberation Sans" font-size="9.5" fill="#008000" textLength="15.5" lengthAdjust="spacingAndGlyphs">OIII</text>
<text transform="translate(1257.4,343.6) rotate(90)" font-family="Liberation Sans" font-size="9.5" fill="#008000">{</text>
<text transform="translate(1288.3,323.5) rotate(90)" font-family="Liberation Sans" font-size="9.5" fill="#008000" textLength="15.5" lengthAdjust="spacingAndGlyphs">OIII</text>
<text transform="translate(1288.9,343.6) rotate(90)" font-family="Liberation Sans" font-size="9.5" fill="#008000">{</text>
<text transform="translate(310.9,280.4) rotate(90)" font-family="Liberation Sans" font-size="9.5" fill="#7f8fe6" textLength="13.2" lengthAdjust="spacingAndGlyphs">OII</text>
<text transform="translate(311.4,301.3) rotate(90)" font-family="Liberation Sans" font-size="9.5" fill="#7f8fe6">{</text>
<text transform="translate(408.7,286.0) rotate(90)" font-family="Liberation Sans" font-size="9.5" fill="#c07ad8" textLength="13.4" lengthAdjust="spacingAndGlyphs">Hζ</text>
<text transform="translate(409.2,301.3) rotate(90)" font-family="Liberation Sans" font-size="9.5" fill="#c07ad8">{</text>
<text transform="translate(435.9,265.2) rotate(90)" font-family="Liberation Sans" font-size="9.5" fill="#a0a0e0" textLength="31.9" lengthAdjust="spacingAndGlyphs">(K)CaII</text>
<text transform="translate(436.4,301.3) rotate(90)" font-family="Liberation Sans" font-size="9.5" fill="#a0a0e0">{</text>
<text transform="translate(684.1,284.4) rotate(90)" font-family="Liberation Sans" font-size="9.5" fill="#a0b0ee" textLength="13.5" lengthAdjust="spacingAndGlyphs">Hγ</text>
<text transform="translate(684.6,301.3) rotate(90)" font-family="Liberation Sans" font-size="9.5" fill="#a0b0ee">{</text>
<text transform="translate(853.3,282.1) rotate(90)" font-family="Liberation Sans" font-size="9.5" fill="#ffb733" textLength="15.8" lengthAdjust="spacingAndGlyphs">CIII</text>
<text transform="translate(853.9,301.3) rotate(90)" font-family="Liberation Sans" font-size="9.5" fill="#ffb733">{</text>
<text transform="translate(1002.5,284.5) rotate(90)" font-family="Liberation Sans" font-size="9.5" fill="#9a86d8" textLength="14.4" lengthAdjust="spacingAndGlyphs">Hβ</text>
<text transform="translate(1003.0,301.3) rotate(90)" font-family="Liberation Sans" font-size="9.5" fill="#9a86d8">{</text>
<text transform="translate(1061.8,280.9) rotate(90)" font-family="Liberation Sans" font-size="9.5" fill="#9a86e0" textLength="16.8" lengthAdjust="spacingAndGlyphs">OIII</text>
<text transform="translate(1062.4,301.3) rotate(90)" font-family="Liberation Sans" font-size="9.5" fill="#9a86e0">{</text>
<text transform="translate(1090.0,280.9) rotate(90)" font-family="Liberation Sans" font-size="9.5" fill="#90a8ec" textLength="16.8" lengthAdjust="spacingAndGlyphs">OIII</text>
<text transform="translate(1090.6,301.3) rotate(90)" font-family="Liberation Sans" font-size="9.5" fill="#90a8ec">{</text>
<text transform="translate(1117.6,280.9) rotate(90)" font-family="Liberation Sans" font-size="9.5" fill="#87cefa" textLength="16.8" lengthAdjust="spacingAndGlyphs">OIII</text>
<text transform="translate(1118.2,301.3) rotate(90)" font-family="Liberation Sans" font-size="9.5" fill="#87cefa">{</text>
<text transform="translate(1260.9,280.9) rotate(90)" font-family="Liberation Sans" font-size="9.5" fill="#ff00ff" textLength="13.2" lengthAdjust="spacingAndGlyphs">OII</text>
<text transform="translate(1261.5,301.3) rotate(90)" font-family="Liberation Sans" font-size="9.5" fill="#ff00ff">{</text>
<text x="70.7" y="500.7" font-family="Liberation Mono" font-size="13" fill="#000" >HSC-DEX : Possible Matches = 1 (within +/- 3")  P(LAE)/P(OII): N/A</text>
<rect x="69.7" y="532.7" width="148.4" height="147.6" fill="#fdfdfd"/>
<rect x="70.2" y="533.2" width="147.4" height="146.6" fill="url(#b0)"/>
<circle cx="132.2" cy="560.0" r="12.4" fill="none" stroke="#777" stroke-width="0.9"/>
<circle cx="155.6" cy="560.0" r="12.4" fill="none" stroke="#777" stroke-width="0.9"/>
<circle cx="96.2" cy="581.0" r="12.4" fill="none" stroke="#777" stroke-width="0.9"/>
<circle cx="119.7" cy="581.0" r="12.4" fill="none" stroke="#777" stroke-width="0.9"/>
<circle cx="168.1" cy="581.0" r="12.4" fill="none" stroke="#777" stroke-width="0.9"/>
<circle cx="191.6" cy="581.0" r="12.4" fill="none" stroke="#777" stroke-width="0.9"/>
<circle cx="108.1" cy="601.6" r="12.4" fill="none" stroke="#777" stroke-width="0.9"/>
<circle cx="179.7" cy="601.6" r="12.4" fill="none" stroke="#777" stroke-width="0.9"/>
<circle cx="96.2" cy="622.0" r="12.4" fill="none" stroke="#777" stroke-width="0.9"/>
<circle cx="119.7" cy="622.0" r="12.4" fill="none" stroke="#777" stroke-width="0.9"/>
<circle cx="168.1" cy="622.0" r="12.4" fill="none" stroke="#777" stroke-width="0.9"/>
<circle cx="191.6" cy="622.0" r="12.4" fill="none" stroke="#777" stroke-width="0.9"/>
<circle cx="108.1" cy="643.3" r="12.4" fill="none" stroke="#777" stroke-width="0.9"/>
<circle cx="132.2" cy="643.3" r="12.4" fill="none" stroke="#777" stroke-width="0.9"/>
<circle cx="155.6" cy="643.3" r="12.4" fill="none" stroke="#777" stroke-width="0.9"/>
<circle cx="179.7" cy="643.3" r="12.4" fill="none" stroke="#777" stroke-width="0.9"/>
<circle cx="143.9" cy="581.0" r="12.4" fill="none" stroke="#ff0000" stroke-width="1.4"/>
<circle cx="131.5" cy="601.6" r="12.4" fill="none" stroke="#0000ff" stroke-width="1.4"/>
<circle cx="155.6" cy="601.6" r="12.4" fill="none" stroke="#00ff00" stroke-width="1.4"/>
<circle cx="143.9" cy="622.0" r="12.4" fill="none" stroke="#ffa500" stroke-width="1.4"/>
<rect x="95.1" y="557.7" width="97.6" height="97.6" fill="none" stroke="#ff0000" stroke-width="1.3"/>
<text x="143.9" y="545.7" font-family="Liberation Sans" font-size="11.6" fill="#ff0000" text-anchor="middle" textLength="8.7" lengthAdjust="spacingAndGlyphs" >N</text>
<text x="80.1" y="610.7" font-family="Liberation Sans" font-size="11.6" fill="#ff0000" text-anchor="middle" textLength="7.3" lengthAdjust="spacingAndGlyphs" >E</text>
<path d="M139.0,606.5 H148.8 M143.9,601.6 V611.4" stroke="#ff0000" stroke-width="1.2" fill="none"/>
<rect x="69.7" y="532.7" width="148.4" height="147.6" fill="none" stroke="#222" stroke-width="1.1"/>
<line x1="66.2" y1="671.6" x2="69.7" y2="671.6" stroke="#222" stroke-width="1"/>
<line x1="78.8" y1="680.3000000000001" x2="78.8" y2="683.8000000000001" stroke="#222" stroke-width="1"/>
<text x="62.1" y="675.4" font-family="Liberation Sans" font-size="10.4" fill="#000" text-anchor="end" textLength="15.3" lengthAdjust="spacingAndGlyphs" >−4</text>
<text x="78.8" y="696.2" font-family="Liberation Sans" font-size="10.4" fill="#000" text-anchor="middle" textLength="15.3" lengthAdjust="spacingAndGlyphs" >−4</text>
<line x1="66.2" y1="639.0" x2="69.7" y2="639.0" stroke="#222" stroke-width="1"/>
<line x1="111.4" y1="680.3000000000001" x2="111.4" y2="683.8000000000001" stroke="#222" stroke-width="1"/>
<text x="62.1" y="642.8" font-family="Liberation Sans" font-size="10.4" fill="#000" text-anchor="end" textLength="15.3" lengthAdjust="spacingAndGlyphs" >−2</text>
<text x="111.4" y="696.2" font-family="Liberation Sans" font-size="10.4" fill="#000" text-anchor="middle" textLength="15.3" lengthAdjust="spacingAndGlyphs" >−2</text>
<line x1="66.2" y1="606.5" x2="69.7" y2="606.5" stroke="#222" stroke-width="1"/>
<line x1="143.9" y1="680.3000000000001" x2="143.9" y2="683.8000000000001" stroke="#222" stroke-width="1"/>
<text x="62.1" y="610.3" font-family="Liberation Sans" font-size="10.4" fill="#000" text-anchor="end" textLength="6.6" lengthAdjust="spacingAndGlyphs" >0</text>
<text x="143.9" y="696.2" font-family="Liberation Sans" font-size="10.4" fill="#000" text-anchor="middle" textLength="6.6" lengthAdjust="spacingAndGlyphs" >0</text>
<line x1="66.2" y1="574.0" x2="69.7" y2="574.0" stroke="#222" stroke-width="1"/>
<line x1="176.4" y1="680.3000000000001" x2="176.4" y2="683.8000000000001" stroke="#222" stroke-width="1"/>
<text x="62.1" y="577.8" font-family="Liberation Sans" font-size="10.4" fill="#000" text-anchor="end" textLength="6.6" lengthAdjust="spacingAndGlyphs" >2</text>
<text x="176.4" y="696.2" font-family="Liberation Sans" font-size="10.4" fill="#000" text-anchor="middle" textLength="6.6" lengthAdjust="spacingAndGlyphs" >2</text>
<line x1="66.2" y1="541.4" x2="69.7" y2="541.4" stroke="#222" stroke-width="1"/>
<line x1="209.0" y1="680.3000000000001" x2="209.0" y2="683.8000000000001" stroke="#222" stroke-width="1"/>
<text x="62.1" y="545.2" font-family="Liberation Sans" font-size="10.4" fill="#000" text-anchor="end" textLength="6.6" lengthAdjust="spacingAndGlyphs" >4</text>
<text x="209.0" y="696.2" font-family="Liberation Sans" font-size="10.4" fill="#000" text-anchor="middle" textLength="6.6" lengthAdjust="spacingAndGlyphs" >4</text>
<text x="143.9" y="525.7" font-family="Liberation Sans" font-size="12.8" fill="#000" text-anchor="middle" textLength="91.8" lengthAdjust="spacingAndGlyphs" >Fiber Positions</text>
<text x="143.9" y="706.3" font-family="Liberation Sans" font-size="10.7" fill="#000" text-anchor="middle" textLength="40.2" lengthAdjust="spacingAndGlyphs" >arcsecs</text>
<g clip-path="url(#lfclip)">
<rect x="250" y="528" width="160" height="158" fill="#31688e"/>
<g filter="url(#lfblur)">
<polygon points="247.7,524.7 350.7,524.7 342.8,540.5 301.6,551.6 247.7,551.6" fill="#23988b"/>
<polygon points="247.7,524.7 320.6,524.7 301.6,540.5 247.7,540.5" fill="#2ba784"/>
<polygon points="247.7,551.6 263.5,551.6 260.3,603.9 247.7,603.9" fill="#3e4a89"/>
<polygon points="326.1,524.7 347.5,524.7 357.8,553.2 372.2,575.5 380.8,597.7 387.1,613.4 371.1,619.9 362.3,597.7 352.3,575.5 336.7,553.2" fill="#440154"/>
<polygon points="288.9,545.3 301.6,540.5 307.9,553.2 295.2,557.9" fill="#46106c"/>
<polygon points="285.7,556.4 301.6,556.4 301.6,567.5 285.7,567.5" fill="#46337e"/>
<polygon points="361.8,524.7 412.5,524.7 412.5,565.9 393.5,572.2 371.3,554.8" fill="#22a785"/>
<polygon points="374.5,524.7 412.5,524.7 412.5,546.9 396.7,557.9 384.0,550.0" fill="#35b779"/>
<polygon points="387.1,578.6 412.5,570.6 412.5,616.6 387.1,616.6" fill="#3b528b"/>
<polygon points="383.8,618.0 412.5,613.4 412.5,650.0 385.6,650.0" fill="#440154"/>
<polygon points="342.8,650.0 412.5,650.0 412.5,689.5 342.8,689.5" fill="#433e85"/>
<polygon points="348.0,651.9 371.9,651.9 365.0,672.1 352.3,672.1" fill="#481a6c"/>
<polygon points="247.7,599.2 280.3,599.2 280.3,626.6 247.7,647.5" fill="#3e4a89"/>
<polygon points="247.7,647.5 255.9,643.2 280.0,626.6 281.3,642.0 283.3,661.3 255.9,675.2 247.7,678.4" fill="#440154"/>
<polygon points="247.7,675.7 293.6,675.7 293.6,689.5 247.7,689.5" fill="#3e4a89"/>
<polygon points="280.3,655.9 342.8,655.9 342.8,689.5 293.6,689.5 285.7,673.7" fill="#2c728e"/>
</g>
<g filter="url(#lfblur2)">
<polygon points="285.7,567.5 301.6,559.5 320.6,561.1 331.7,570.6 342.8,570.6 357.0,573.0 368.1,588.1 371.3,602.3 369.7,619.8 365.0,634.0 355.4,648.3 342.8,653.4 320.6,653.4 295.2,642.0 290.5,629.3 295.2,613.4 301.6,600.7 290.5,591.2 285.7,578.6" fill="#21918c"/>
<polygon points="296.3,619.8 307.9,608.8 317.7,619.8 309.5,627.8" fill="#45085e"/>
<polygon points="293.6,573.8 306.3,562.7 317.4,565.1 328.5,574.6 342.8,571.4 355.4,573.0 365.0,585.7 370.5,600.7 365.7,616.6 358.6,629.3 353.9,642.0 340.4,647.5 328.5,642.7 320.6,630.1 312.6,617.4 304.7,604.7 293.6,586.5" fill="#5ec962"/>
<polygon points="297.1,572.5 306.3,565.1 315.0,568.2 324.5,577.8 338.0,574.6 351.5,574.1 361.0,581.7 367.8,597.6 363.4,608.7 356.7,619.8 351.5,632.4 342.8,642.7 331.7,640.4 323.7,629.3 316.6,615.0 307.9,602.3 298.4,585.7" fill="#a5db36"/>
</g>
<polygon points="300.8,568.4 306.3,566.7 311.1,570.6 317.4,577.0 328.5,581.1 334.8,577.0 342.8,577.0 350.7,575.4 357.0,578.6 365.0,594.4 366.5,599.2 361.8,605.5 355.4,615.0 350.7,624.5 347.5,634.0 339.6,638.8 331.7,635.6 325.3,629.3 320.6,619.8 314.2,607.1 306.3,597.6 300.0,583.3" fill="#fde725"/>
<circle cx="306.3" cy="582.8" r="1.9" fill="#3b528b"/>
<circle cx="357.0" cy="619.9" r="1.9" fill="#3b528b"/>
<circle cx="343.6" cy="637.8" r="1.9" fill="#3b528b"/>
<circle cx="291.2" cy="596.8" r="1.6" fill="#5ec962"/>
</g>
<rect x="280.7" y="557.7" width="97.6" height="97.6" fill="none" stroke="#ff0000" stroke-width="1.3"/>
<text x="329.5" y="545.7" font-family="Liberation Sans" font-size="11.6" fill="#ff0000" text-anchor="middle" textLength="8.7" lengthAdjust="spacingAndGlyphs" >N</text>
<text x="265.7" y="610.7" font-family="Liberation Sans" font-size="11.6" fill="#ff0000" text-anchor="middle" textLength="7.3" lengthAdjust="spacingAndGlyphs" >E</text>
<path d="M292.6,606.5 H321.4 M337.6,606.5 H366.4 M329.5,569.6 V598.4 M329.5,614.6 V643.4" stroke="#ff0000" stroke-width="1.3" fill="none"/>
<rect x="255.3" y="532.7" width="148.4" height="147.6" fill="none" stroke="#222" stroke-width="1.1"/>
<line x1="251.8" y1="671.6" x2="255.3" y2="671.6" stroke="#222" stroke-width="1"/>
<line x1="264.4" y1="680.3000000000001" x2="264.4" y2="683.8000000000001" stroke="#222" stroke-width="1"/>
<text x="247.7" y="675.4" font-family="Liberation Sans" font-size="10.4" fill="#000" text-anchor="end" textLength="15.3" lengthAdjust="spacingAndGlyphs" >−4</text>
<text x="264.4" y="696.2" font-family="Liberation Sans" font-size="10.4" fill="#000" text-anchor="middle" textLength="15.3" lengthAdjust="spacingAndGlyphs" >−4</text>
<line x1="251.8" y1="639.0" x2="255.3" y2="639.0" stroke="#222" stroke-width="1"/>
<line x1="297.0" y1="680.3000000000001" x2="297.0" y2="683.8000000000001" stroke="#222" stroke-width="1"/>
<text x="247.7" y="642.8" font-family="Liberation Sans" font-size="10.4" fill="#000" text-anchor="end" textLength="15.3" lengthAdjust="spacingAndGlyphs" >−2</text>
<text x="297.0" y="696.2" font-family="Liberation Sans" font-size="10.4" fill="#000" text-anchor="middle" textLength="15.3" lengthAdjust="spacingAndGlyphs" >−2</text>
<line x1="251.8" y1="606.5" x2="255.3" y2="606.5" stroke="#222" stroke-width="1"/>
<line x1="329.5" y1="680.3000000000001" x2="329.5" y2="683.8000000000001" stroke="#222" stroke-width="1"/>
<text x="247.7" y="610.3" font-family="Liberation Sans" font-size="10.4" fill="#000" text-anchor="end" textLength="6.6" lengthAdjust="spacingAndGlyphs" >0</text>
<text x="329.5" y="696.2" font-family="Liberation Sans" font-size="10.4" fill="#000" text-anchor="middle" textLength="6.6" lengthAdjust="spacingAndGlyphs" >0</text>
<line x1="251.8" y1="574.0" x2="255.3" y2="574.0" stroke="#222" stroke-width="1"/>
<line x1="362.0" y1="680.3000000000001" x2="362.0" y2="683.8000000000001" stroke="#222" stroke-width="1"/>
<text x="247.7" y="577.8" font-family="Liberation Sans" font-size="10.4" fill="#000" text-anchor="end" textLength="6.6" lengthAdjust="spacingAndGlyphs" >2</text>
<text x="362.0" y="696.2" font-family="Liberation Sans" font-size="10.4" fill="#000" text-anchor="middle" textLength="6.6" lengthAdjust="spacingAndGlyphs" >2</text>
<line x1="251.8" y1="541.4" x2="255.3" y2="541.4" stroke="#222" stroke-width="1"/>
<line x1="394.6" y1="680.3000000000001" x2="394.6" y2="683.8000000000001" stroke="#222" stroke-width="1"/>
<text x="247.7" y="545.2" font-family="Liberation Sans" font-size="10.4" fill="#000" text-anchor="end" textLength="6.6" lengthAdjust="spacingAndGlyphs" >4</text>
<text x="394.6" y="696.2" font-family="Liberation Sans" font-size="10.4" fill="#000" text-anchor="middle" textLength="6.6" lengthAdjust="spacingAndGlyphs" >4</text>
<text x="329.5" y="525.7" font-family="Liberation Sans" font-size="12.8" fill="#000" text-anchor="middle" textLength="81.5" lengthAdjust="spacingAndGlyphs" >Lineflux Map</text>
<text x="329.5" y="706.3" font-family="Liberation Sans" font-size="10.7" fill="#000" text-anchor="middle" textLength="100.7" lengthAdjust="spacingAndGlyphs" >s/b: 6.05 +/- 0.362</text>
<rect x="440.6" y="532.7" width="148.4" height="147.6" fill="#f9f9f9"/>
<rect x="441.1" y="533.2" width="147.4" height="146.6" fill="url(#b2)"/>
<ellipse cx="505.4" cy="608.1" rx="26.2" ry="27.0" fill="none" stroke="#ffd700" stroke-width="1.5"/>
<rect x="499.0" y="602.3" width="13.0" height="13.0" fill="none" stroke="#0000ff" stroke-width="1.3"/>
<rect x="466.0" y="557.7" width="97.6" height="97.6" fill="none" stroke="#ff0000" stroke-width="1.3"/>
<text x="514.8" y="545.7" font-family="Liberation Sans" font-size="11.6" fill="#ff0000" text-anchor="middle" textLength="8.7" lengthAdjust="spacingAndGlyphs" >N</text>
<text x="451.0" y="610.7" font-family="Liberation Sans" font-size="11.6" fill="#ff0000" text-anchor="middle" textLength="7.3" lengthAdjust="spacingAndGlyphs" >E</text>
<path d="M477.9,606.5 H506.7 M522.9,606.5 H551.7 M514.8000000000001,569.6 V598.4 M514.8000000000001,614.6 V643.4" stroke="#ff0000" stroke-width="1.3" fill="none"/>
<rect x="440.6" y="532.7" width="148.4" height="147.6" fill="none" stroke="#222" stroke-width="1.1"/>
<line x1="437.1" y1="671.6" x2="440.6" y2="671.6" stroke="#222" stroke-width="1"/>
<line x1="449.7" y1="680.3000000000001" x2="449.7" y2="683.8000000000001" stroke="#222" stroke-width="1"/>
<text x="433.0" y="675.4" font-family="Liberation Sans" font-size="10.4" fill="#000" text-anchor="end" textLength="15.3" lengthAdjust="spacingAndGlyphs" >−4</text>
<text x="449.7" y="696.2" font-family="Liberation Sans" font-size="10.4" fill="#000" text-anchor="middle" textLength="15.3" lengthAdjust="spacingAndGlyphs" >−4</text>
<line x1="437.1" y1="639.0" x2="440.6" y2="639.0" stroke="#222" stroke-width="1"/>
<line x1="482.3" y1="680.3000000000001" x2="482.3" y2="683.8000000000001" stroke="#222" stroke-width="1"/>
<text x="433.0" y="642.8" font-family="Liberation Sans" font-size="10.4" fill="#000" text-anchor="end" textLength="15.3" lengthAdjust="spacingAndGlyphs" >−2</text>
<text x="482.3" y="696.2" font-family="Liberation Sans" font-size="10.4" fill="#000" text-anchor="middle" textLength="15.3" lengthAdjust="spacingAndGlyphs" >−2</text>
<line x1="437.1" y1="606.5" x2="440.6" y2="606.5" stroke="#222" stroke-width="1"/>
<line x1="514.8" y1="680.3000000000001" x2="514.8" y2="683.8000000000001" stroke="#222" stroke-width="1"/>
<text x="433.0" y="610.3" font-family="Liberation Sans" font-size="10.4" fill="#000" text-anchor="end" textLength="6.6" lengthAdjust="spacingAndGlyphs" >0</text>
<text x="514.8" y="696.2" font-family="Liberation Sans" font-size="10.4" fill="#000" text-anchor="middle" textLength="6.6" lengthAdjust="spacingAndGlyphs" >0</text>
<line x1="437.1" y1="574.0" x2="440.6" y2="574.0" stroke="#222" stroke-width="1"/>
<line x1="547.3" y1="680.3000000000001" x2="547.3" y2="683.8000000000001" stroke="#222" stroke-width="1"/>
<text x="433.0" y="577.8" font-family="Liberation Sans" font-size="10.4" fill="#000" text-anchor="end" textLength="6.6" lengthAdjust="spacingAndGlyphs" >2</text>
<text x="547.3" y="696.2" font-family="Liberation Sans" font-size="10.4" fill="#000" text-anchor="middle" textLength="6.6" lengthAdjust="spacingAndGlyphs" >2</text>
<line x1="437.1" y1="541.4" x2="440.6" y2="541.4" stroke="#222" stroke-width="1"/>
<line x1="579.9" y1="680.3000000000001" x2="579.9" y2="683.8000000000001" stroke="#222" stroke-width="1"/>
<text x="433.0" y="545.2" font-family="Liberation Sans" font-size="10.4" fill="#000" text-anchor="end" textLength="6.6" lengthAdjust="spacingAndGlyphs" >4</text>
<text x="579.9" y="696.2" font-family="Liberation Sans" font-size="10.4" fill="#000" text-anchor="middle" textLength="6.6" lengthAdjust="spacingAndGlyphs" >4</text>
<text x="514.8" y="525.7" font-family="Liberation Sans" font-size="12.8" fill="#000" text-anchor="middle" textLength="131.0" lengthAdjust="spacingAndGlyphs" >CFHTLS/Meg(25.7) u</text>
<text x="514.8" y="706.3" font-family="Liberation Sans" font-size="10.7" fill="#000" text-anchor="middle" textLength="118.9" lengthAdjust="spacingAndGlyphs" >m:17.5  re:1.6"  s:0.6"</text>
<rect x="625.8" y="532.7" width="148.4" height="147.6" fill="#f9f9f9"/>
<rect x="626.3" y="533.2" width="147.4" height="146.6" fill="url(#b3)"/>
<ellipse cx="688.9" cy="608.0" rx="30.8" ry="30.4" fill="none" stroke="#ffd700" stroke-width="1.5"/>
<rect x="684.2" y="602.3" width="13.0" height="13.0" fill="none" stroke="#0000ff" stroke-width="1.3"/>
<rect x="651.2" y="557.7" width="97.6" height="97.6" fill="none" stroke="#ff0000" stroke-width="1.3"/>
<text x="700.0" y="545.7" font-family="Liberation Sans" font-size="11.6" fill="#ff0000" text-anchor="middle" textLength="8.7" lengthAdjust="spacingAndGlyphs" >N</text>
<text x="636.2" y="610.7" font-family="Liberation Sans" font-size="11.6" fill="#ff0000" text-anchor="middle" textLength="7.3" lengthAdjust="spacingAndGlyphs" >E</text>
<path d="M663.1,606.5 H691.9 M708.1,606.5 H736.9 M700.0,569.6 V598.4 M700.0,614.6 V643.4" stroke="#ff0000" stroke-width="1.3" fill="none"/>
<rect x="625.8" y="532.7" width="148.4" height="147.6" fill="none" stroke="#222" stroke-width="1.1"/>
<line x1="622.3" y1="671.6" x2="625.8" y2="671.6" stroke="#222" stroke-width="1"/>
<line x1="634.9" y1="680.3000000000001" x2="634.9" y2="683.8000000000001" stroke="#222" stroke-width="1"/>
<text x="618.2" y="675.4" font-family="Liberation Sans" font-size="10.4" fill="#000" text-anchor="end" textLength="15.3" lengthAdjust="spacingAndGlyphs" >−4</text>
<text x="634.9" y="696.2" font-family="Liberation Sans" font-size="10.4" fill="#000" text-anchor="middle" textLength="15.3" lengthAdjust="spacingAndGlyphs" >−4</text>
<line x1="622.3" y1="639.0" x2="625.8" y2="639.0" stroke="#222" stroke-width="1"/>
<line x1="667.5" y1="680.3000000000001" x2="667.5" y2="683.8000000000001" stroke="#222" stroke-width="1"/>
<text x="618.2" y="642.8" font-family="Liberation Sans" font-size="10.4" fill="#000" text-anchor="end" textLength="15.3" lengthAdjust="spacingAndGlyphs" >−2</text>
<text x="667.5" y="696.2" font-family="Liberation Sans" font-size="10.4" fill="#000" text-anchor="middle" textLength="15.3" lengthAdjust="spacingAndGlyphs" >−2</text>
<line x1="622.3" y1="606.5" x2="625.8" y2="606.5" stroke="#222" stroke-width="1"/>
<line x1="700.0" y1="680.3000000000001" x2="700.0" y2="683.8000000000001" stroke="#222" stroke-width="1"/>
<text x="618.2" y="610.3" font-family="Liberation Sans" font-size="10.4" fill="#000" text-anchor="end" textLength="6.6" lengthAdjust="spacingAndGlyphs" >0</text>
<text x="700.0" y="696.2" font-family="Liberation Sans" font-size="10.4" fill="#000" text-anchor="middle" textLength="6.6" lengthAdjust="spacingAndGlyphs" >0</text>
<line x1="622.3" y1="574.0" x2="625.8" y2="574.0" stroke="#222" stroke-width="1"/>
<line x1="732.5" y1="680.3000000000001" x2="732.5" y2="683.8000000000001" stroke="#222" stroke-width="1"/>
<text x="618.2" y="577.8" font-family="Liberation Sans" font-size="10.4" fill="#000" text-anchor="end" textLength="6.6" lengthAdjust="spacingAndGlyphs" >2</text>
<text x="732.5" y="696.2" font-family="Liberation Sans" font-size="10.4" fill="#000" text-anchor="middle" textLength="6.6" lengthAdjust="spacingAndGlyphs" >2</text>
<line x1="622.3" y1="541.4" x2="625.8" y2="541.4" stroke="#222" stroke-width="1"/>
<line x1="765.1" y1="680.3000000000001" x2="765.1" y2="683.8000000000001" stroke="#222" stroke-width="1"/>
<text x="618.2" y="545.2" font-family="Liberation Sans" font-size="10.4" fill="#000" text-anchor="end" textLength="6.6" lengthAdjust="spacingAndGlyphs" >4</text>
<text x="765.1" y="696.2" font-family="Liberation Sans" font-size="10.4" fill="#000" text-anchor="middle" textLength="6.6" lengthAdjust="spacingAndGlyphs" >4</text>
<text x="700.0" y="525.7" font-family="Liberation Sans" font-size="12.8" fill="#000" text-anchor="middle" textLength="131.0" lengthAdjust="spacingAndGlyphs" >CFHTLS/Meg(26.0) g</text>
<text x="700.0" y="706.3" font-family="Liberation Sans" font-size="10.7" fill="#000" text-anchor="middle" textLength="118.9" lengthAdjust="spacingAndGlyphs" >m:16.6  re:1.9"  s:0.7"</text>
<rect x="811.2" y="532.7" width="148.4" height="147.6" fill="#fbfbfb"/>
<rect x="811.7" y="533.2" width="147.4" height="146.6" fill="url(#b4)"/>
<ellipse cx="885.6" cy="611.7" rx="36.3" ry="34.2" fill="none" stroke="#ffd700" stroke-width="1.5"/>
<rect x="869.6" y="602.3" width="13.0" height="13.0" fill="none" stroke="#0000ff" stroke-width="1.3"/>
<rect x="836.6" y="557.7" width="97.6" height="97.6" fill="none" stroke="#ff0000" stroke-width="1.3"/>
<text x="885.4" y="545.7" font-family="Liberation Sans" font-size="11.6" fill="#ff0000" text-anchor="middle" textLength="8.7" lengthAdjust="spacingAndGlyphs" >N</text>
<text x="821.6" y="610.7" font-family="Liberation Sans" font-size="11.6" fill="#ff0000" text-anchor="middle" textLength="7.3" lengthAdjust="spacingAndGlyphs" >E</text>
<path d="M848.5,606.5 H877.3 M893.5,606.5 H922.3 M885.4000000000001,569.6 V598.4 M885.4000000000001,614.6 V643.4" stroke="#ff0000" stroke-width="1.3" fill="none"/>
<rect x="811.2" y="532.7" width="148.4" height="147.6" fill="none" stroke="#222" stroke-width="1.1"/>
<line x1="807.7" y1="671.6" x2="811.2" y2="671.6" stroke="#222" stroke-width="1"/>
<line x1="820.3" y1="680.3000000000001" x2="820.3" y2="683.8000000000001" stroke="#222" stroke-width="1"/>
<text x="803.6" y="675.4" font-family="Liberation Sans" font-size="10.4" fill="#000" text-anchor="end" textLength="15.3" lengthAdjust="spacingAndGlyphs" >−4</text>
<text x="820.3" y="696.2" font-family="Liberation Sans" font-size="10.4" fill="#000" text-anchor="middle" textLength="15.3" lengthAdjust="spacingAndGlyphs" >−4</text>
<line x1="807.7" y1="639.0" x2="811.2" y2="639.0" stroke="#222" stroke-width="1"/>
<line x1="852.9" y1="680.3000000000001" x2="852.9" y2="683.8000000000001" stroke="#222" stroke-width="1"/>
<text x="803.6" y="642.8" font-family="Liberation Sans" font-size="10.4" fill="#000" text-anchor="end" textLength="15.3" lengthAdjust="spacingAndGlyphs" >−2</text>
<text x="852.9" y="696.2" font-family="Liberation Sans" font-size="10.4" fill="#000" text-anchor="middle" textLength="15.3" lengthAdjust="spacingAndGlyphs" >−2</text>
<line x1="807.7" y1="606.5" x2="811.2" y2="606.5" stroke="#222" stroke-width="1"/>
<line x1="885.4" y1="680.3000000000001" x2="885.4" y2="683.8000000000001" stroke="#222" stroke-width="1"/>
<text x="803.6" y="610.3" font-family="Liberation Sans" font-size="10.4" fill="#000" text-anchor="end" textLength="6.6" lengthAdjust="spacingAndGlyphs" >0</text>
<text x="885.4" y="696.2" font-family="Liberation Sans" font-size="10.4" fill="#000" text-anchor="middle" textLength="6.6" lengthAdjust="spacingAndGlyphs" >0</text>
<line x1="807.7" y1="574.0" x2="811.2" y2="574.0" stroke="#222" stroke-width="1"/>
<line x1="917.9" y1="680.3000000000001" x2="917.9" y2="683.8000000000001" stroke="#222" stroke-width="1"/>
<text x="803.6" y="577.8" font-family="Liberation Sans" font-size="10.4" fill="#000" text-anchor="end" textLength="6.6" lengthAdjust="spacingAndGlyphs" >2</text>
<text x="917.9" y="696.2" font-family="Liberation Sans" font-size="10.4" fill="#000" text-anchor="middle" textLength="6.6" lengthAdjust="spacingAndGlyphs" >2</text>
<line x1="807.7" y1="541.4" x2="811.2" y2="541.4" stroke="#222" stroke-width="1"/>
<line x1="950.5" y1="680.3000000000001" x2="950.5" y2="683.8000000000001" stroke="#222" stroke-width="1"/>
<text x="803.6" y="545.2" font-family="Liberation Sans" font-size="10.4" fill="#000" text-anchor="end" textLength="6.6" lengthAdjust="spacingAndGlyphs" >4</text>
<text x="950.5" y="696.2" font-family="Liberation Sans" font-size="10.4" fill="#000" text-anchor="middle" textLength="6.6" lengthAdjust="spacingAndGlyphs" >4</text>
<text x="885.4" y="525.7" font-family="Liberation Sans" font-size="12.8" fill="#000" text-anchor="middle" textLength="74.5" lengthAdjust="spacingAndGlyphs" >HSC(26.2) r</text>
<text x="885.4" y="706.3" font-family="Liberation Sans" font-size="10.7" fill="#000" text-anchor="middle" textLength="118.9" lengthAdjust="spacingAndGlyphs" >m:16.0  re:2.1"  s:0.3"</text>
<rect x="996.6" y="532.7" width="148.4" height="147.6" fill="#b2b2b2"/>
<rect x="997.1" y="533.2" width="147.4" height="146.6" fill="url(#b5)"/>
<rect x="1057.0" y="583.4" width="3" height="3" fill="#fff"/>
<ellipse cx="1060.1" cy="608.1" rx="28.3" ry="35.3" fill="none" stroke="#ffd700" stroke-width="1.5"/>
<rect x="1055.0" y="602.3" width="13.0" height="13.0" fill="none" stroke="#0000ff" stroke-width="1.3"/>
<rect x="1022.0" y="557.7" width="97.6" height="97.6" fill="none" stroke="#ff0000" stroke-width="1.3"/>
<text x="1070.8" y="545.7" font-family="Liberation Sans" font-size="11.6" fill="#ff0000" text-anchor="middle" textLength="8.7" lengthAdjust="spacingAndGlyphs" >N</text>
<text x="1007.0" y="610.7" font-family="Liberation Sans" font-size="11.6" fill="#ff0000" text-anchor="middle" textLength="7.3" lengthAdjust="spacingAndGlyphs" >E</text>
<path d="M1033.9,606.5 H1062.7 M1078.9,606.5 H1107.7 M1070.8,569.6 V598.4 M1070.8,614.6 V643.4" stroke="#ff0000" stroke-width="1.3" fill="none"/>
<rect x="996.6" y="532.7" width="148.4" height="147.6" fill="none" stroke="#222" stroke-width="1.1"/>
<line x1="993.1" y1="671.6" x2="996.6" y2="671.6" stroke="#222" stroke-width="1"/>
<line x1="1005.7" y1="680.3000000000001" x2="1005.7" y2="683.8000000000001" stroke="#222" stroke-width="1"/>
<text x="989.0" y="675.4" font-family="Liberation Sans" font-size="10.4" fill="#000" text-anchor="end" textLength="15.3" lengthAdjust="spacingAndGlyphs" >−4</text>
<text x="1005.7" y="696.2" font-family="Liberation Sans" font-size="10.4" fill="#000" text-anchor="middle" textLength="15.3" lengthAdjust="spacingAndGlyphs" >−4</text>
<line x1="993.1" y1="639.0" x2="996.6" y2="639.0" stroke="#222" stroke-width="1"/>
<line x1="1038.3" y1="680.3000000000001" x2="1038.3" y2="683.8000000000001" stroke="#222" stroke-width="1"/>
<text x="989.0" y="642.8" font-family="Liberation Sans" font-size="10.4" fill="#000" text-anchor="end" textLength="15.3" lengthAdjust="spacingAndGlyphs" >−2</text>
<text x="1038.3" y="696.2" font-family="Liberation Sans" font-size="10.4" fill="#000" text-anchor="middle" textLength="15.3" lengthAdjust="spacingAndGlyphs" >−2</text>
<line x1="993.1" y1="606.5" x2="996.6" y2="606.5" stroke="#222" stroke-width="1"/>
<line x1="1070.8" y1="680.3000000000001" x2="1070.8" y2="683.8000000000001" stroke="#222" stroke-width="1"/>
<text x="989.0" y="610.3" font-family="Liberation Sans" font-size="10.4" fill="#000" text-anchor="end" textLength="6.6" lengthAdjust="spacingAndGlyphs" >0</text>
<text x="1070.8" y="696.2" font-family="Liberation Sans" font-size="10.4" fill="#000" text-anchor="middle" textLength="6.6" lengthAdjust="spacingAndGlyphs" >0</text>
<line x1="993.1" y1="574.0" x2="996.6" y2="574.0" stroke="#222" stroke-width="1"/>
<line x1="1103.3" y1="680.3000000000001" x2="1103.3" y2="683.8000000000001" stroke="#222" stroke-width="1"/>
<text x="989.0" y="577.8" font-family="Liberation Sans" font-size="10.4" fill="#000" text-anchor="end" textLength="6.6" lengthAdjust="spacingAndGlyphs" >2</text>
<text x="1103.3" y="696.2" font-family="Liberation Sans" font-size="10.4" fill="#000" text-anchor="middle" textLength="6.6" lengthAdjust="spacingAndGlyphs" >2</text>
<line x1="993.1" y1="541.4" x2="996.6" y2="541.4" stroke="#222" stroke-width="1"/>
<line x1="1135.9" y1="680.3000000000001" x2="1135.9" y2="683.8000000000001" stroke="#222" stroke-width="1"/>
<text x="989.0" y="545.2" font-family="Liberation Sans" font-size="10.4" fill="#000" text-anchor="end" textLength="6.6" lengthAdjust="spacingAndGlyphs" >4</text>
<text x="1135.9" y="696.2" font-family="Liberation Sans" font-size="10.4" fill="#000" text-anchor="middle" textLength="6.6" lengthAdjust="spacingAndGlyphs" >4</text>
<text x="1070.8" y="525.7" font-family="Liberation Sans" font-size="12.8" fill="#000" text-anchor="middle" textLength="126.5" lengthAdjust="spacingAndGlyphs" >CFHTLS/Meg(25.3) i</text>
<text x="1070.8" y="706.3" font-family="Liberation Sans" font-size="10.7" fill="#000" text-anchor="middle" textLength="118.9" lengthAdjust="spacingAndGlyphs" >m:16.0  re:1.9"  s:0.7"</text>
<rect x="1181.6" y="532.7" width="148.4" height="147.6" fill="#f9f9f9"/>
<rect x="1182.1" y="533.2" width="147.4" height="146.6" fill="url(#b6)"/>
<ellipse cx="1247.0" cy="608.1" rx="30.8" ry="30.9" fill="none" stroke="#ffd700" stroke-width="1.5"/>
<rect x="1240.0" y="602.3" width="13.0" height="13.0" fill="none" stroke="#0000ff" stroke-width="1.3"/>
<rect x="1207.0" y="557.7" width="97.6" height="97.6" fill="none" stroke="#ff0000" stroke-width="1.3"/>
<text x="1255.8" y="545.7" font-family="Liberation Sans" font-size="11.6" fill="#ff0000" text-anchor="middle" textLength="8.7" lengthAdjust="spacingAndGlyphs" >N</text>
<text x="1192.0" y="610.7" font-family="Liberation Sans" font-size="11.6" fill="#ff0000" text-anchor="middle" textLength="7.3" lengthAdjust="spacingAndGlyphs" >E</text>
<path d="M1218.9,606.5 H1247.7 M1263.9,606.5 H1292.7 M1255.8,569.6 V598.4 M1255.8,614.6 V643.4" stroke="#ff0000" stroke-width="1.3" fill="none"/>
<rect x="1181.6" y="532.7" width="148.4" height="147.6" fill="none" stroke="#222" stroke-width="1.1"/>
<line x1="1178.1" y1="671.6" x2="1181.6" y2="671.6" stroke="#222" stroke-width="1"/>
<line x1="1190.7" y1="680.3000000000001" x2="1190.7" y2="683.8000000000001" stroke="#222" stroke-width="1"/>
<text x="1174.0" y="675.4" font-family="Liberation Sans" font-size="10.4" fill="#000" text-anchor="end" textLength="15.3" lengthAdjust="spacingAndGlyphs" >−4</text>
<text x="1190.7" y="696.2" font-family="Liberation Sans" font-size="10.4" fill="#000" text-anchor="middle" textLength="15.3" lengthAdjust="spacingAndGlyphs" >−4</text>
<line x1="1178.1" y1="639.0" x2="1181.6" y2="639.0" stroke="#222" stroke-width="1"/>
<line x1="1223.3" y1="680.3000000000001" x2="1223.3" y2="683.8000000000001" stroke="#222" stroke-width="1"/>
<text x="1174.0" y="642.8" font-family="Liberation Sans" font-size="10.4" fill="#000" text-anchor="end" textLength="15.3" lengthAdjust="spacingAndGlyphs" >−2</text>
<text x="1223.3" y="696.2" font-family="Liberation Sans" font-size="10.4" fill="#000" text-anchor="middle" textLength="15.3" lengthAdjust="spacingAndGlyphs" >−2</text>
<line x1="1178.1" y1="606.5" x2="1181.6" y2="606.5" stroke="#222" stroke-width="1"/>
<line x1="1255.8" y1="680.3000000000001" x2="1255.8" y2="683.8000000000001" stroke="#222" stroke-width="1"/>
<text x="1174.0" y="610.3" font-family="Liberation Sans" font-size="10.4" fill="#000" text-anchor="end" textLength="6.6" lengthAdjust="spacingAndGlyphs" >0</text>
<text x="1255.8" y="696.2" font-family="Liberation Sans" font-size="10.4" fill="#000" text-anchor="middle" textLength="6.6" lengthAdjust="spacingAndGlyphs" >0</text>
<line x1="1178.1" y1="574.0" x2="1181.6" y2="574.0" stroke="#222" stroke-width="1"/>
<line x1="1288.3" y1="680.3000000000001" x2="1288.3" y2="683.8000000000001" stroke="#222" stroke-width="1"/>
<text x="1174.0" y="577.8" font-family="Liberation Sans" font-size="10.4" fill="#000" text-anchor="end" textLength="6.6" lengthAdjust="spacingAndGlyphs" >2</text>
<text x="1288.3" y="696.2" font-family="Liberation Sans" font-size="10.4" fill="#000" text-anchor="middle" textLength="6.6" lengthAdjust="spacingAndGlyphs" >2</text>
<line x1="1178.1" y1="541.4" x2="1181.6" y2="541.4" stroke="#222" stroke-width="1"/>
<line x1="1320.9" y1="680.3000000000001" x2="1320.9" y2="683.8000000000001" stroke="#222" stroke-width="1"/>
<text x="1174.0" y="545.2" font-family="Liberation Sans" font-size="10.4" fill="#000" text-anchor="end" textLength="6.6" lengthAdjust="spacingAndGlyphs" >4</text>
<text x="1320.9" y="696.2" font-family="Liberation Sans" font-size="10.4" fill="#000" text-anchor="middle" textLength="6.6" lengthAdjust="spacingAndGlyphs" >4</text>
<text x="1255.8" y="525.7" font-family="Liberation Sans" font-size="12.8" fill="#000" text-anchor="middle" textLength="129.6" lengthAdjust="spacingAndGlyphs" >CFHTLS/Meg(24.4) z</text>
<text x="1255.8" y="706.3" font-family="Liberation Sans" font-size="10.7" fill="#000" text-anchor="middle" textLength="118.9" lengthAdjust="spacingAndGlyphs" >m:15.7  re:1.9"  s:0.6"</text>
<text x="70.7" y="785.7" font-family="Liberation Mono" font-size="12.8" fill="#000" >Separation</text>
<text x="70.7" y="800.4" font-family="Liberation Mono" font-size="12.8" fill="#000" >Match score</text>
<text x="70.7" y="815.7" font-family="Liberation Mono" font-size="12.8" fill="#000" >RA, Dec</text>
<text x="70.7" y="830.4" font-family="Liberation Mono" font-size="12.8" fill="#000" >Spec z</text>
<text x="70.7" y="844.3" font-family="Liberation Mono" font-size="12.8" fill="#000" >Photo z</text>
<text x="70.7" y="859.3" font-family="Liberation Mono" font-size="12.8" fill="#000" >Est LyA rest-EW</text>
<text x="70.7" y="872.9" font-family="Liberation Mono" font-size="12.8" fill="#000" >mag</text>
<text x="70.7" y="888.6" font-family="Liberation Mono" font-size="12.8" fill="#000" >P(LAE)/P(OII)</text>
<text x="287.3" y="779.1" font-family="Liberation Mono" font-size="12.8" fill="#0000ff" >0.604053"</text>
<text x="287.3" y="793.5" font-family="Liberation Mono" font-size="12.8" fill="#0000ff" >1.000</text>
<text x="287.3" y="807.8" font-family="Liberation Mono" font-size="12.8" fill="#0000ff" >215.609900, 54.454756</text>
<text x="287.3" y="822.5" font-family="Liberation Mono" font-size="12.8" fill="#0000ff" >N/A</text>
<text x="287.3" y="837.1" font-family="Liberation Mono" font-size="12.8" fill="#0000ff" >-99.9</text>
<text x="287.3" y="854.0" font-family="Liberation Mono" font-size="12.8" fill="#0000ff" >nan(±nan)</text>
<text x="287.3" y="869.5" font-family="Liberation Mono" font-size="12.8" fill="#0000ff" >16.64(16.64,16.64)g</text>
<text x="287.3" y="886.1" font-family="Liberation Mono" font-size="12.8" fill="#0000ff" >O</text>
<text x="356.4" y="854" font-family="Liberation Sans" font-style="italic" font-size="13" fill="#0000ff">Å</text>
<text x="300.0" y="880.5" font-family="Liberation Sans" font-size="8.5" fill="#0000ff" text-anchor="start"  >0</text>
<text x="300.0" y="889.5" font-family="Liberation Sans" font-size="8.5" fill="#0000ff" text-anchor="start"  >0</text>
<text x="939.4" y="821.2" font-family="Liberation Mono" font-size="12.85" fill="#000" >Phot z plot not available.</text>
</svg>
</body></html>
